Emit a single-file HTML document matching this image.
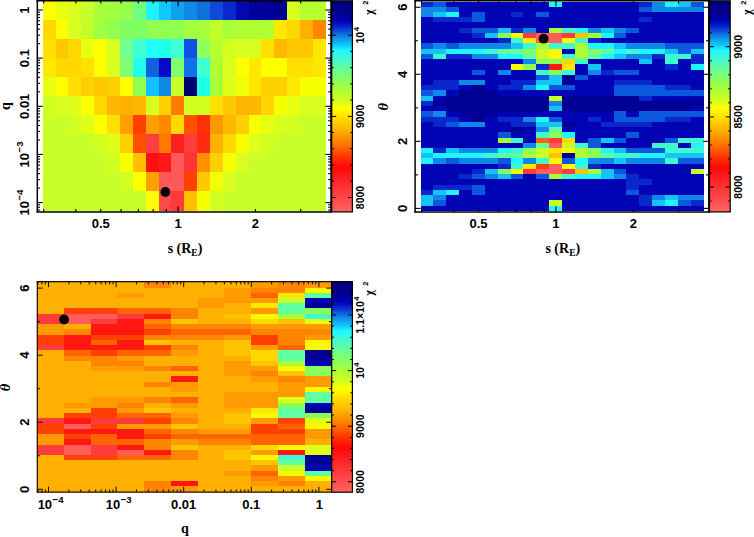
<!DOCTYPE html>
<html><head><meta charset="utf-8"><title>chi2 maps</title>
<style>html,body{margin:0;padding:0;background:#fff;}svg{display:block;}text{fill:#000;}</style></head>
<body>
<svg width="754" height="537" viewBox="0 0 754 537">
<defs><linearGradient id="cb" x1="0" y1="0" x2="0" y2="1"><stop offset="0.000" stop-color="#000080"/><stop offset="0.050" stop-color="#00008c"/><stop offset="0.095" stop-color="#0000b0"/><stop offset="0.125" stop-color="#0828d0"/><stop offset="0.165" stop-color="#1080e0"/><stop offset="0.205" stop-color="#10c0f8"/><stop offset="0.235" stop-color="#20f8ff"/><stop offset="0.290" stop-color="#50f8c0"/><stop offset="0.350" stop-color="#78ff78"/><stop offset="0.420" stop-color="#a8ff38"/><stop offset="0.470" stop-color="#d0ff20"/><stop offset="0.510" stop-color="#ffff00"/><stop offset="0.550" stop-color="#ffe000"/><stop offset="0.615" stop-color="#ffb000"/><stop offset="0.685" stop-color="#ff7000"/><stop offset="0.745" stop-color="#ff3000"/><stop offset="0.790" stop-color="#ff0808"/><stop offset="0.850" stop-color="#ff2424"/><stop offset="0.925" stop-color="#ff4444"/><stop offset="1.000" stop-color="#ff6464"/></linearGradient></defs>
<rect x="0" y="0" width="754" height="537" fill="#fff"/>
<g shape-rendering="crispEdges">
<rect x="42.70" y="1.00" width="13.17" height="19.34" fill="#ffff00"/>
<rect x="55.57" y="1.00" width="13.17" height="19.34" fill="#e8ff10"/>
<rect x="68.44" y="1.00" width="13.17" height="19.34" fill="#d8ff20"/>
<rect x="81.30" y="1.00" width="13.17" height="19.34" fill="#c8ff28"/>
<rect x="94.17" y="1.00" width="13.17" height="19.34" fill="#a8ff38"/>
<rect x="107.04" y="1.00" width="13.17" height="19.34" fill="#a0ff40"/>
<rect x="119.91" y="1.00" width="13.17" height="19.34" fill="#98ff48"/>
<rect x="132.78" y="1.00" width="13.17" height="19.34" fill="#70ff80"/>
<rect x="145.65" y="1.00" width="13.17" height="19.34" fill="#20f0ff"/>
<rect x="158.51" y="1.00" width="13.17" height="19.34" fill="#10c8ff"/>
<rect x="171.38" y="1.00" width="13.17" height="19.34" fill="#10a0f0"/>
<rect x="184.25" y="1.00" width="13.17" height="19.34" fill="#1088e8"/>
<rect x="197.12" y="1.00" width="13.17" height="19.34" fill="#1070e0"/>
<rect x="209.99" y="1.00" width="13.17" height="19.34" fill="#1048d8"/>
<rect x="222.85" y="1.00" width="13.17" height="19.34" fill="#0828d0"/>
<rect x="235.72" y="1.00" width="13.17" height="19.34" fill="#0408b0"/>
<rect x="248.59" y="1.00" width="13.17" height="19.34" fill="#0000a0"/>
<rect x="261.46" y="1.00" width="13.17" height="19.34" fill="#000098"/>
<rect x="274.33" y="1.00" width="13.17" height="19.34" fill="#000090"/>
<rect x="287.20" y="1.00" width="13.17" height="19.34" fill="#d8ff20"/>
<rect x="300.06" y="1.00" width="26.04" height="19.34" fill="#b8ff30"/>
<rect x="42.70" y="20.04" width="13.17" height="19.34" fill="#ffd800"/>
<rect x="55.57" y="20.04" width="13.17" height="19.34" fill="#ffff00"/>
<rect x="68.44" y="20.04" width="13.17" height="19.34" fill="#d8ff20"/>
<rect x="81.30" y="20.04" width="13.17" height="19.34" fill="#c0ff28"/>
<rect x="94.17" y="20.04" width="13.17" height="19.34" fill="#a0ff40"/>
<rect x="107.04" y="20.04" width="13.17" height="19.34" fill="#90ff50"/>
<rect x="119.91" y="20.04" width="26.04" height="19.34" fill="#80ff60"/>
<rect x="145.65" y="20.04" width="38.90" height="19.34" fill="#90ff50"/>
<rect x="184.25" y="20.04" width="13.17" height="19.34" fill="#a0ff40"/>
<rect x="197.12" y="20.04" width="13.17" height="19.34" fill="#a8ff38"/>
<rect x="209.99" y="20.04" width="13.17" height="19.34" fill="#c0ff28"/>
<rect x="222.85" y="20.04" width="13.17" height="19.34" fill="#a8ff38"/>
<rect x="235.72" y="20.04" width="38.90" height="19.34" fill="#b0ff30"/>
<rect x="274.33" y="20.04" width="13.17" height="19.34" fill="#ffe800"/>
<rect x="287.20" y="20.04" width="13.17" height="19.34" fill="#ffd800"/>
<rect x="300.06" y="20.04" width="13.17" height="19.34" fill="#ffb000"/>
<rect x="312.93" y="20.04" width="13.17" height="19.34" fill="#ff8800"/>
<rect x="42.70" y="39.07" width="13.17" height="19.34" fill="#ffe000"/>
<rect x="55.57" y="39.07" width="13.17" height="19.34" fill="#ffc800"/>
<rect x="68.44" y="39.07" width="13.17" height="19.34" fill="#ffd800"/>
<rect x="81.30" y="39.07" width="13.17" height="19.34" fill="#e8ff10"/>
<rect x="94.17" y="39.07" width="13.17" height="19.34" fill="#ffff00"/>
<rect x="107.04" y="39.07" width="13.17" height="19.34" fill="#d8ff20"/>
<rect x="119.91" y="39.07" width="13.17" height="19.34" fill="#70ff90"/>
<rect x="132.78" y="39.07" width="13.17" height="19.34" fill="#40ffd0"/>
<rect x="145.65" y="39.07" width="13.17" height="19.34" fill="#20ffff"/>
<rect x="158.51" y="39.07" width="13.17" height="19.34" fill="#20ffe8"/>
<rect x="171.38" y="39.07" width="13.17" height="19.34" fill="#40ffd0"/>
<rect x="184.25" y="39.07" width="13.17" height="19.34" fill="#1050e0"/>
<rect x="197.12" y="39.07" width="13.17" height="19.34" fill="#90ff60"/>
<rect x="209.99" y="39.07" width="13.17" height="19.34" fill="#b8ff30"/>
<rect x="222.85" y="39.07" width="13.17" height="19.34" fill="#d0ff20"/>
<rect x="235.72" y="39.07" width="26.04" height="19.34" fill="#d8ff20"/>
<rect x="261.46" y="39.07" width="13.17" height="19.34" fill="#ffe000"/>
<rect x="274.33" y="39.07" width="13.17" height="19.34" fill="#ffb800"/>
<rect x="287.20" y="39.07" width="26.04" height="19.34" fill="#ffc800"/>
<rect x="312.93" y="39.07" width="13.17" height="19.34" fill="#ffe800"/>
<rect x="42.70" y="58.11" width="13.17" height="19.34" fill="#ffe800"/>
<rect x="55.57" y="58.11" width="26.04" height="19.34" fill="#ffd800"/>
<rect x="81.30" y="58.11" width="13.17" height="19.34" fill="#ffe000"/>
<rect x="94.17" y="58.11" width="13.17" height="19.34" fill="#ffff00"/>
<rect x="107.04" y="58.11" width="13.17" height="19.34" fill="#d8ff20"/>
<rect x="119.91" y="58.11" width="13.17" height="19.34" fill="#80ff70"/>
<rect x="132.78" y="58.11" width="13.17" height="19.34" fill="#20ffe8"/>
<rect x="145.65" y="58.11" width="13.17" height="19.34" fill="#1060e0"/>
<rect x="158.51" y="58.11" width="13.17" height="19.34" fill="#0808c8"/>
<rect x="171.38" y="58.11" width="13.17" height="19.34" fill="#80ff70"/>
<rect x="184.25" y="58.11" width="13.17" height="19.34" fill="#1070e8"/>
<rect x="197.12" y="58.11" width="13.17" height="19.34" fill="#40ffd0"/>
<rect x="209.99" y="58.11" width="13.17" height="19.34" fill="#b0ff30"/>
<rect x="222.85" y="58.11" width="13.17" height="19.34" fill="#d8ff20"/>
<rect x="235.72" y="58.11" width="13.17" height="19.34" fill="#ffff00"/>
<rect x="248.59" y="58.11" width="13.17" height="19.34" fill="#ffe800"/>
<rect x="261.46" y="58.11" width="26.04" height="19.34" fill="#ffff00"/>
<rect x="287.20" y="58.11" width="26.04" height="19.34" fill="#ffe000"/>
<rect x="312.93" y="58.11" width="13.17" height="19.34" fill="#ffe800"/>
<rect x="42.70" y="77.15" width="13.17" height="19.34" fill="#e8ff10"/>
<rect x="55.57" y="77.15" width="13.17" height="19.34" fill="#ffff00"/>
<rect x="68.44" y="77.15" width="13.17" height="19.34" fill="#ffe000"/>
<rect x="81.30" y="77.15" width="13.17" height="19.34" fill="#ffd000"/>
<rect x="94.17" y="77.15" width="13.17" height="19.34" fill="#ffc800"/>
<rect x="107.04" y="77.15" width="13.17" height="19.34" fill="#ffd000"/>
<rect x="119.91" y="77.15" width="13.17" height="19.34" fill="#ffff00"/>
<rect x="132.78" y="77.15" width="13.17" height="19.34" fill="#90ff50"/>
<rect x="145.65" y="77.15" width="13.17" height="19.34" fill="#10c0ff"/>
<rect x="158.51" y="77.15" width="13.17" height="19.34" fill="#1088e8"/>
<rect x="171.38" y="77.15" width="13.17" height="19.34" fill="#c8ff28"/>
<rect x="184.25" y="77.15" width="13.17" height="19.34" fill="#000070"/>
<rect x="197.12" y="77.15" width="13.17" height="19.34" fill="#20ffe8"/>
<rect x="209.99" y="77.15" width="13.17" height="19.34" fill="#a8ff38"/>
<rect x="222.85" y="77.15" width="13.17" height="19.34" fill="#e0ff18"/>
<rect x="235.72" y="77.15" width="13.17" height="19.34" fill="#f0ff08"/>
<rect x="248.59" y="77.15" width="13.17" height="19.34" fill="#ffe800"/>
<rect x="261.46" y="77.15" width="26.04" height="19.34" fill="#ffd000"/>
<rect x="287.20" y="77.15" width="13.17" height="19.34" fill="#ffe800"/>
<rect x="300.06" y="77.15" width="26.04" height="19.34" fill="#f8ff00"/>
<rect x="42.70" y="96.18" width="13.17" height="19.34" fill="#d0ff20"/>
<rect x="55.57" y="96.18" width="13.17" height="19.34" fill="#d8ff20"/>
<rect x="68.44" y="96.18" width="13.17" height="19.34" fill="#e0ff18"/>
<rect x="81.30" y="96.18" width="13.17" height="19.34" fill="#ffff00"/>
<rect x="94.17" y="96.18" width="13.17" height="19.34" fill="#ffd800"/>
<rect x="107.04" y="96.18" width="13.17" height="19.34" fill="#ffb800"/>
<rect x="119.91" y="96.18" width="13.17" height="19.34" fill="#ffb000"/>
<rect x="132.78" y="96.18" width="13.17" height="19.34" fill="#ffb800"/>
<rect x="145.65" y="96.18" width="13.17" height="19.34" fill="#d8ff20"/>
<rect x="158.51" y="96.18" width="13.17" height="19.34" fill="#ffd000"/>
<rect x="171.38" y="96.18" width="13.17" height="19.34" fill="#ff7c00"/>
<rect x="184.25" y="96.18" width="26.04" height="19.34" fill="#d0ff20"/>
<rect x="209.99" y="96.18" width="13.17" height="19.34" fill="#ffe000"/>
<rect x="222.85" y="96.18" width="13.17" height="19.34" fill="#ffc800"/>
<rect x="235.72" y="96.18" width="13.17" height="19.34" fill="#ffb400"/>
<rect x="248.59" y="96.18" width="13.17" height="19.34" fill="#ffb800"/>
<rect x="261.46" y="96.18" width="13.17" height="19.34" fill="#ffd400"/>
<rect x="274.33" y="96.18" width="13.17" height="19.34" fill="#f8ff00"/>
<rect x="287.20" y="96.18" width="13.17" height="19.34" fill="#e8ff10"/>
<rect x="300.06" y="96.18" width="13.17" height="19.34" fill="#d8ff20"/>
<rect x="312.93" y="96.18" width="13.17" height="19.34" fill="#d8ff1c"/>
<rect x="42.70" y="115.22" width="26.04" height="19.34" fill="#c8ff28"/>
<rect x="68.44" y="115.22" width="13.17" height="19.34" fill="#d0ff20"/>
<rect x="81.30" y="115.22" width="13.17" height="19.34" fill="#e0ff18"/>
<rect x="94.17" y="115.22" width="13.17" height="19.34" fill="#ffff00"/>
<rect x="107.04" y="115.22" width="13.17" height="19.34" fill="#ffe000"/>
<rect x="119.91" y="115.22" width="13.17" height="19.34" fill="#ffa000"/>
<rect x="132.78" y="115.22" width="13.17" height="19.34" fill="#ff4000"/>
<rect x="145.65" y="115.22" width="13.17" height="19.34" fill="#ffa000"/>
<rect x="158.51" y="115.22" width="13.17" height="19.34" fill="#ff8800"/>
<rect x="171.38" y="115.22" width="13.17" height="19.34" fill="#ffd800"/>
<rect x="184.25" y="115.22" width="13.17" height="19.34" fill="#ff5000"/>
<rect x="197.12" y="115.22" width="13.17" height="19.34" fill="#ff3008"/>
<rect x="209.99" y="115.22" width="13.17" height="19.34" fill="#ff9800"/>
<rect x="222.85" y="115.22" width="13.17" height="19.34" fill="#ffb800"/>
<rect x="235.72" y="115.22" width="13.17" height="19.34" fill="#ffd000"/>
<rect x="248.59" y="115.22" width="13.17" height="19.34" fill="#f8ff00"/>
<rect x="261.46" y="115.22" width="13.17" height="19.34" fill="#e8ff10"/>
<rect x="274.33" y="115.22" width="13.17" height="19.34" fill="#d8ff20"/>
<rect x="287.20" y="115.22" width="13.17" height="19.34" fill="#d0ff20"/>
<rect x="300.06" y="115.22" width="26.04" height="19.34" fill="#c8ff28"/>
<rect x="42.70" y="134.25" width="51.77" height="19.34" fill="#c8ff28"/>
<rect x="94.17" y="134.25" width="13.17" height="19.34" fill="#d0ff20"/>
<rect x="107.04" y="134.25" width="13.17" height="19.34" fill="#e0ff18"/>
<rect x="119.91" y="134.25" width="13.17" height="19.34" fill="#ffd000"/>
<rect x="132.78" y="134.25" width="13.17" height="19.34" fill="#ff5000"/>
<rect x="145.65" y="134.25" width="13.17" height="19.34" fill="#ff4040"/>
<rect x="158.51" y="134.25" width="13.17" height="19.34" fill="#ff7800"/>
<rect x="171.38" y="134.25" width="13.17" height="19.34" fill="#ff2020"/>
<rect x="184.25" y="134.25" width="13.17" height="19.34" fill="#ff3c3c"/>
<rect x="197.12" y="134.25" width="13.17" height="19.34" fill="#ff2810"/>
<rect x="209.99" y="134.25" width="13.17" height="19.34" fill="#ffb000"/>
<rect x="222.85" y="134.25" width="13.17" height="19.34" fill="#ffd800"/>
<rect x="235.72" y="134.25" width="13.17" height="19.34" fill="#f8ff00"/>
<rect x="248.59" y="134.25" width="13.17" height="19.34" fill="#e0ff18"/>
<rect x="261.46" y="134.25" width="13.17" height="19.34" fill="#d0ff20"/>
<rect x="274.33" y="134.25" width="51.77" height="19.34" fill="#c8ff28"/>
<rect x="42.70" y="153.29" width="64.64" height="19.34" fill="#c8ff28"/>
<rect x="107.04" y="153.29" width="13.17" height="19.34" fill="#d0ff20"/>
<rect x="119.91" y="153.29" width="13.17" height="19.34" fill="#f8ff00"/>
<rect x="132.78" y="153.29" width="13.17" height="19.34" fill="#ffc000"/>
<rect x="145.65" y="153.29" width="13.17" height="19.34" fill="#ff1010"/>
<rect x="158.51" y="153.29" width="13.17" height="19.34" fill="#ff1818"/>
<rect x="171.38" y="153.29" width="13.17" height="19.34" fill="#ff5858"/>
<rect x="184.25" y="153.29" width="13.17" height="19.34" fill="#ff3434"/>
<rect x="197.12" y="153.29" width="13.17" height="19.34" fill="#ff9000"/>
<rect x="209.99" y="153.29" width="13.17" height="19.34" fill="#ffd000"/>
<rect x="222.85" y="153.29" width="13.17" height="19.34" fill="#f8ff00"/>
<rect x="235.72" y="153.29" width="13.17" height="19.34" fill="#d8ff20"/>
<rect x="248.59" y="153.29" width="77.51" height="19.34" fill="#c8ff28"/>
<rect x="42.70" y="172.33" width="77.51" height="19.34" fill="#c8ff28"/>
<rect x="119.91" y="172.33" width="13.17" height="19.34" fill="#d0ff20"/>
<rect x="132.78" y="172.33" width="13.17" height="19.34" fill="#ffff00"/>
<rect x="145.65" y="172.33" width="13.17" height="19.34" fill="#ffa000"/>
<rect x="158.51" y="172.33" width="26.04" height="19.34" fill="#ff5858"/>
<rect x="184.25" y="172.33" width="13.17" height="19.34" fill="#ff4000"/>
<rect x="197.12" y="172.33" width="13.17" height="19.34" fill="#ffc800"/>
<rect x="209.99" y="172.33" width="13.17" height="19.34" fill="#f0ff08"/>
<rect x="222.85" y="172.33" width="13.17" height="19.34" fill="#d8ff20"/>
<rect x="235.72" y="172.33" width="90.38" height="19.34" fill="#c8ff28"/>
<rect x="42.70" y="191.36" width="103.25" height="19.34" fill="#c8ff28"/>
<rect x="145.65" y="191.36" width="13.17" height="19.34" fill="#ffff00"/>
<rect x="158.51" y="191.36" width="13.17" height="19.34" fill="#ff4848"/>
<rect x="171.38" y="191.36" width="13.17" height="19.34" fill="#ff3838"/>
<rect x="184.25" y="191.36" width="13.17" height="19.34" fill="#ffc000"/>
<rect x="197.12" y="191.36" width="13.17" height="19.34" fill="#f8ff00"/>
<rect x="209.99" y="191.36" width="13.17" height="19.34" fill="#d0ff20"/>
<rect x="222.85" y="191.36" width="103.25" height="19.34" fill="#c8ff28"/>
<rect x="420.50" y="1.50" width="13.17" height="5.53" fill="#0828cc"/>
<rect x="433.37" y="1.50" width="13.17" height="5.53" fill="#0c58dc"/>
<rect x="446.24" y="1.50" width="103.25" height="5.53" fill="#0004b4"/>
<rect x="549.18" y="1.50" width="13.17" height="5.53" fill="#20f4fc"/>
<rect x="562.05" y="1.50" width="77.51" height="5.53" fill="#0004b4"/>
<rect x="639.26" y="1.50" width="13.17" height="5.53" fill="#0828cc"/>
<rect x="652.13" y="1.50" width="13.17" height="5.53" fill="#1088e8"/>
<rect x="665.00" y="1.50" width="13.17" height="5.53" fill="#20f4fc"/>
<rect x="677.86" y="1.50" width="13.17" height="5.53" fill="#14c4f8"/>
<rect x="690.73" y="1.50" width="13.17" height="5.53" fill="#0c58dc"/>
<rect x="420.50" y="6.73" width="26.04" height="5.53" fill="#1088e8"/>
<rect x="446.24" y="6.73" width="13.17" height="5.53" fill="#0c58dc"/>
<rect x="459.10" y="6.73" width="180.45" height="5.53" fill="#0004b4"/>
<rect x="639.26" y="6.73" width="13.17" height="5.53" fill="#0c58dc"/>
<rect x="652.13" y="6.73" width="51.77" height="5.53" fill="#1088e8"/>
<rect x="420.50" y="11.96" width="13.17" height="5.53" fill="#1088e8"/>
<rect x="433.37" y="11.96" width="13.17" height="5.53" fill="#14c4f8"/>
<rect x="446.24" y="11.96" width="13.17" height="5.53" fill="#20f4fc"/>
<rect x="459.10" y="11.96" width="13.17" height="5.53" fill="#0004b4"/>
<rect x="471.97" y="11.96" width="13.17" height="5.53" fill="#0c58dc"/>
<rect x="484.84" y="11.96" width="26.04" height="5.53" fill="#0004b4"/>
<rect x="510.58" y="11.96" width="13.17" height="5.53" fill="#0828cc"/>
<rect x="523.45" y="11.96" width="13.17" height="5.53" fill="#0004b4"/>
<rect x="536.31" y="11.96" width="13.17" height="5.53" fill="#0c58dc"/>
<rect x="549.18" y="11.96" width="154.72" height="5.53" fill="#0004b4"/>
<rect x="420.50" y="17.20" width="13.17" height="5.53" fill="#0004b4"/>
<rect x="433.37" y="17.20" width="38.90" height="5.53" fill="#0828cc"/>
<rect x="471.97" y="17.20" width="13.17" height="5.53" fill="#0c58dc"/>
<rect x="484.84" y="17.20" width="154.72" height="5.53" fill="#0004b4"/>
<rect x="639.26" y="17.20" width="13.17" height="5.53" fill="#0828cc"/>
<rect x="652.13" y="17.20" width="51.77" height="5.53" fill="#0004b4"/>
<rect x="420.50" y="22.43" width="283.40" height="5.53" fill="#0004b4"/>
<rect x="420.50" y="27.66" width="38.90" height="5.53" fill="#0004b4"/>
<rect x="459.10" y="27.66" width="13.17" height="5.53" fill="#0828cc"/>
<rect x="471.97" y="27.66" width="26.04" height="5.53" fill="#0c58dc"/>
<rect x="497.71" y="27.66" width="13.17" height="5.53" fill="#14c4f8"/>
<rect x="510.58" y="27.66" width="13.17" height="5.53" fill="#0828cc"/>
<rect x="523.45" y="27.66" width="13.17" height="5.53" fill="#1088e8"/>
<rect x="536.31" y="27.66" width="13.17" height="5.53" fill="#0004b4"/>
<rect x="549.18" y="27.66" width="13.17" height="5.53" fill="#a8ff38"/>
<rect x="562.05" y="27.66" width="13.17" height="5.53" fill="#40f8d0"/>
<rect x="574.92" y="27.66" width="13.17" height="5.53" fill="#20f4fc"/>
<rect x="587.79" y="27.66" width="13.17" height="5.53" fill="#1088e8"/>
<rect x="600.65" y="27.66" width="13.17" height="5.53" fill="#14c4f8"/>
<rect x="613.52" y="27.66" width="13.17" height="5.53" fill="#1088e8"/>
<rect x="626.39" y="27.66" width="13.17" height="5.53" fill="#0c58dc"/>
<rect x="639.26" y="27.66" width="64.64" height="5.53" fill="#0004b4"/>
<rect x="420.50" y="32.89" width="51.77" height="5.53" fill="#0004b4"/>
<rect x="471.97" y="32.89" width="13.17" height="5.53" fill="#0828cc"/>
<rect x="484.84" y="32.89" width="13.17" height="5.53" fill="#14c4f8"/>
<rect x="497.71" y="32.89" width="13.17" height="5.53" fill="#88ff58"/>
<rect x="510.58" y="32.89" width="13.17" height="5.53" fill="#fcf800"/>
<rect x="523.45" y="32.89" width="13.17" height="5.53" fill="#ff3c3c"/>
<rect x="536.31" y="32.89" width="26.04" height="5.53" fill="#ff5c5c"/>
<rect x="562.05" y="32.89" width="13.17" height="5.53" fill="#ff3c3c"/>
<rect x="574.92" y="32.89" width="13.17" height="5.53" fill="#ffc000"/>
<rect x="587.79" y="32.89" width="13.17" height="5.53" fill="#a8ff38"/>
<rect x="600.65" y="32.89" width="13.17" height="5.53" fill="#20f4fc"/>
<rect x="613.52" y="32.89" width="13.17" height="5.53" fill="#0c58dc"/>
<rect x="626.39" y="32.89" width="77.51" height="5.53" fill="#0004b4"/>
<rect x="420.50" y="38.13" width="77.51" height="5.53" fill="#0004b4"/>
<rect x="497.71" y="38.13" width="13.17" height="5.53" fill="#0828cc"/>
<rect x="510.58" y="38.13" width="13.17" height="5.53" fill="#40f8d0"/>
<rect x="523.45" y="38.13" width="13.17" height="5.53" fill="#ffe800"/>
<rect x="536.31" y="38.13" width="26.04" height="5.53" fill="#ff5c5c"/>
<rect x="562.05" y="38.13" width="13.17" height="5.53" fill="#fcf800"/>
<rect x="574.92" y="38.13" width="13.17" height="5.53" fill="#40f8d0"/>
<rect x="587.79" y="38.13" width="13.17" height="5.53" fill="#0828cc"/>
<rect x="600.65" y="38.13" width="103.25" height="5.53" fill="#0004b4"/>
<rect x="420.50" y="43.36" width="13.17" height="5.53" fill="#0c58dc"/>
<rect x="433.37" y="43.36" width="13.17" height="5.53" fill="#1088e8"/>
<rect x="446.24" y="43.36" width="13.17" height="5.53" fill="#0c58dc"/>
<rect x="459.10" y="43.36" width="51.77" height="5.53" fill="#1088e8"/>
<rect x="510.58" y="43.36" width="13.17" height="5.53" fill="#14c4f8"/>
<rect x="523.45" y="43.36" width="13.17" height="5.53" fill="#40f8d0"/>
<rect x="536.31" y="43.36" width="13.17" height="5.53" fill="#a8ff38"/>
<rect x="549.18" y="43.36" width="26.04" height="5.53" fill="#40f8d0"/>
<rect x="574.92" y="43.36" width="13.17" height="5.53" fill="#a8ff38"/>
<rect x="587.79" y="43.36" width="26.04" height="5.53" fill="#20f4fc"/>
<rect x="613.52" y="43.36" width="13.17" height="5.53" fill="#14c4f8"/>
<rect x="626.39" y="43.36" width="38.90" height="5.53" fill="#1088e8"/>
<rect x="665.00" y="43.36" width="38.90" height="5.53" fill="#0c58dc"/>
<rect x="420.50" y="48.59" width="26.04" height="5.53" fill="#14c4f8"/>
<rect x="446.24" y="48.59" width="38.90" height="5.53" fill="#20f4fc"/>
<rect x="484.84" y="48.59" width="13.17" height="5.53" fill="#40f8d0"/>
<rect x="497.71" y="48.59" width="26.04" height="5.53" fill="#60ffa0"/>
<rect x="523.45" y="48.59" width="13.17" height="5.53" fill="#88ff58"/>
<rect x="536.31" y="48.59" width="13.17" height="5.53" fill="#c8ff28"/>
<rect x="549.18" y="48.59" width="13.17" height="5.53" fill="#fcf800"/>
<rect x="562.05" y="48.59" width="13.17" height="5.53" fill="#0004b4"/>
<rect x="574.92" y="48.59" width="13.17" height="5.53" fill="#a8ff38"/>
<rect x="587.79" y="48.59" width="13.17" height="5.53" fill="#88ff58"/>
<rect x="600.65" y="48.59" width="13.17" height="5.53" fill="#60ffa0"/>
<rect x="613.52" y="48.59" width="13.17" height="5.53" fill="#20f4fc"/>
<rect x="626.39" y="48.59" width="13.17" height="5.53" fill="#40f8d0"/>
<rect x="639.26" y="48.59" width="26.04" height="5.53" fill="#20f4fc"/>
<rect x="665.00" y="48.59" width="13.17" height="5.53" fill="#14c4f8"/>
<rect x="677.86" y="48.59" width="13.17" height="5.53" fill="#0c58dc"/>
<rect x="690.73" y="48.59" width="13.17" height="5.53" fill="#14c4f8"/>
<rect x="420.50" y="53.83" width="13.17" height="5.53" fill="#0c58dc"/>
<rect x="433.37" y="53.83" width="13.17" height="5.53" fill="#40f8d0"/>
<rect x="446.24" y="53.83" width="26.04" height="5.53" fill="#0828cc"/>
<rect x="471.97" y="53.83" width="26.04" height="5.53" fill="#1088e8"/>
<rect x="497.71" y="53.83" width="26.04" height="5.53" fill="#20f4fc"/>
<rect x="523.45" y="53.83" width="13.17" height="5.53" fill="#60ffa0"/>
<rect x="536.31" y="53.83" width="13.17" height="5.53" fill="#c8ff28"/>
<rect x="549.18" y="53.83" width="13.17" height="5.53" fill="#fcf800"/>
<rect x="562.05" y="53.83" width="13.17" height="5.53" fill="#40f8d0"/>
<rect x="574.92" y="53.83" width="13.17" height="5.53" fill="#a8ff38"/>
<rect x="587.79" y="53.83" width="13.17" height="5.53" fill="#60ffa0"/>
<rect x="600.65" y="53.83" width="13.17" height="5.53" fill="#20f4fc"/>
<rect x="613.52" y="53.83" width="13.17" height="5.53" fill="#14c4f8"/>
<rect x="626.39" y="53.83" width="26.04" height="5.53" fill="#1088e8"/>
<rect x="652.13" y="53.83" width="13.17" height="5.53" fill="#0828cc"/>
<rect x="665.00" y="53.83" width="26.04" height="5.53" fill="#40f8d0"/>
<rect x="690.73" y="53.83" width="13.17" height="5.53" fill="#0828cc"/>
<rect x="420.50" y="59.06" width="103.25" height="5.53" fill="#0004b4"/>
<rect x="523.45" y="59.06" width="13.17" height="5.53" fill="#1088e8"/>
<rect x="536.31" y="59.06" width="26.04" height="5.53" fill="#88ff58"/>
<rect x="562.05" y="59.06" width="13.17" height="5.53" fill="#ffd800"/>
<rect x="574.92" y="59.06" width="13.17" height="5.53" fill="#40f8d0"/>
<rect x="587.79" y="59.06" width="51.77" height="5.53" fill="#0004b4"/>
<rect x="639.26" y="59.06" width="13.17" height="5.53" fill="#14c4f8"/>
<rect x="652.13" y="59.06" width="13.17" height="5.53" fill="#0004b4"/>
<rect x="665.00" y="59.06" width="13.17" height="5.53" fill="#40f8d0"/>
<rect x="677.86" y="59.06" width="13.17" height="5.53" fill="#0004b4"/>
<rect x="690.73" y="59.06" width="13.17" height="5.53" fill="#0828cc"/>
<rect x="420.50" y="64.29" width="90.38" height="5.53" fill="#0004b4"/>
<rect x="510.58" y="64.29" width="13.17" height="5.53" fill="#fcf800"/>
<rect x="523.45" y="64.29" width="13.17" height="5.53" fill="#88ff58"/>
<rect x="536.31" y="64.29" width="13.17" height="5.53" fill="#0828cc"/>
<rect x="549.18" y="64.29" width="13.17" height="5.53" fill="#ff1810"/>
<rect x="562.05" y="64.29" width="13.17" height="5.53" fill="#ffe800"/>
<rect x="574.92" y="64.29" width="13.17" height="5.53" fill="#0004b4"/>
<rect x="587.79" y="64.29" width="13.17" height="5.53" fill="#14c4f8"/>
<rect x="600.65" y="64.29" width="64.64" height="5.53" fill="#0004b4"/>
<rect x="665.00" y="64.29" width="13.17" height="5.53" fill="#0828cc"/>
<rect x="677.86" y="64.29" width="13.17" height="5.53" fill="#0004b4"/>
<rect x="690.73" y="64.29" width="13.17" height="5.53" fill="#20f4fc"/>
<rect x="420.50" y="69.52" width="51.77" height="5.53" fill="#0004b4"/>
<rect x="471.97" y="69.52" width="13.17" height="5.53" fill="#0c58dc"/>
<rect x="484.84" y="69.52" width="13.17" height="5.53" fill="#0004b4"/>
<rect x="497.71" y="69.52" width="13.17" height="5.53" fill="#1088e8"/>
<rect x="510.58" y="69.52" width="26.04" height="5.53" fill="#0004b4"/>
<rect x="536.31" y="69.52" width="13.17" height="5.53" fill="#40f8d0"/>
<rect x="549.18" y="69.52" width="13.17" height="5.53" fill="#88ff58"/>
<rect x="562.05" y="69.52" width="13.17" height="5.53" fill="#40f8d0"/>
<rect x="574.92" y="69.52" width="13.17" height="5.53" fill="#0004b4"/>
<rect x="587.79" y="69.52" width="13.17" height="5.53" fill="#1088e8"/>
<rect x="600.65" y="69.52" width="13.17" height="5.53" fill="#0828cc"/>
<rect x="613.52" y="69.52" width="26.04" height="5.53" fill="#0c58dc"/>
<rect x="639.26" y="69.52" width="64.64" height="5.53" fill="#0004b4"/>
<rect x="420.50" y="74.75" width="116.11" height="5.53" fill="#0004b4"/>
<rect x="536.31" y="74.75" width="13.17" height="5.53" fill="#0c58dc"/>
<rect x="549.18" y="74.75" width="13.17" height="5.53" fill="#14c4f8"/>
<rect x="562.05" y="74.75" width="13.17" height="5.53" fill="#000094"/>
<rect x="574.92" y="74.75" width="13.17" height="5.53" fill="#0c58dc"/>
<rect x="587.79" y="74.75" width="116.11" height="5.53" fill="#0004b4"/>
<rect x="420.50" y="79.99" width="13.17" height="5.53" fill="#0004b4"/>
<rect x="433.37" y="79.99" width="26.04" height="5.53" fill="#0828cc"/>
<rect x="459.10" y="79.99" width="26.04" height="5.53" fill="#1088e8"/>
<rect x="484.84" y="79.99" width="26.04" height="5.53" fill="#0004b4"/>
<rect x="510.58" y="79.99" width="26.04" height="5.53" fill="#0828cc"/>
<rect x="536.31" y="79.99" width="26.04" height="5.53" fill="#14c4f8"/>
<rect x="562.05" y="79.99" width="13.17" height="5.53" fill="#000094"/>
<rect x="574.92" y="79.99" width="38.90" height="5.53" fill="#0004b4"/>
<rect x="613.52" y="79.99" width="38.90" height="5.53" fill="#0828cc"/>
<rect x="652.13" y="79.99" width="51.77" height="5.53" fill="#0004b4"/>
<rect x="420.50" y="85.22" width="38.90" height="5.53" fill="#0828cc"/>
<rect x="459.10" y="85.22" width="13.17" height="5.53" fill="#0004b4"/>
<rect x="471.97" y="85.22" width="13.17" height="5.53" fill="#000094"/>
<rect x="484.84" y="85.22" width="13.17" height="5.53" fill="#0004b4"/>
<rect x="497.71" y="85.22" width="26.04" height="5.53" fill="#0828cc"/>
<rect x="523.45" y="85.22" width="13.17" height="5.53" fill="#1088e8"/>
<rect x="536.31" y="85.22" width="13.17" height="5.53" fill="#20f4fc"/>
<rect x="549.18" y="85.22" width="26.04" height="5.53" fill="#0c58dc"/>
<rect x="574.92" y="85.22" width="38.90" height="5.53" fill="#0004b4"/>
<rect x="613.52" y="85.22" width="51.77" height="5.53" fill="#0c58dc"/>
<rect x="665.00" y="85.22" width="26.04" height="5.53" fill="#0828cc"/>
<rect x="690.73" y="85.22" width="13.17" height="5.53" fill="#0004b4"/>
<rect x="420.50" y="90.45" width="13.17" height="5.53" fill="#0c58dc"/>
<rect x="433.37" y="90.45" width="13.17" height="5.53" fill="#1088e8"/>
<rect x="446.24" y="90.45" width="13.17" height="5.53" fill="#0004b4"/>
<rect x="459.10" y="90.45" width="38.90" height="5.53" fill="#000094"/>
<rect x="497.71" y="90.45" width="116.11" height="5.53" fill="#0004b4"/>
<rect x="613.52" y="90.45" width="90.38" height="5.53" fill="#0c58dc"/>
<rect x="420.50" y="95.69" width="13.17" height="5.53" fill="#14c4f8"/>
<rect x="433.37" y="95.69" width="13.17" height="5.53" fill="#0004b4"/>
<rect x="446.24" y="95.69" width="103.25" height="5.53" fill="#000094"/>
<rect x="549.18" y="95.69" width="13.17" height="5.53" fill="#c8ff28"/>
<rect x="562.05" y="95.69" width="77.51" height="5.53" fill="#000094"/>
<rect x="639.26" y="95.69" width="13.17" height="5.53" fill="#0828cc"/>
<rect x="652.13" y="95.69" width="51.77" height="5.53" fill="#0004b4"/>
<rect x="420.50" y="100.92" width="13.17" height="5.53" fill="#0828cc"/>
<rect x="433.37" y="100.92" width="116.11" height="5.53" fill="#000094"/>
<rect x="549.18" y="100.92" width="13.17" height="5.53" fill="#1088e8"/>
<rect x="562.05" y="100.92" width="141.85" height="5.53" fill="#000094"/>
<rect x="420.50" y="106.15" width="26.04" height="5.53" fill="#0004b4"/>
<rect x="446.24" y="106.15" width="103.25" height="5.53" fill="#000094"/>
<rect x="549.18" y="106.15" width="13.17" height="5.53" fill="#14c4f8"/>
<rect x="562.05" y="106.15" width="128.98" height="5.53" fill="#000094"/>
<rect x="690.73" y="106.15" width="13.17" height="5.53" fill="#0004b4"/>
<rect x="420.50" y="111.38" width="13.17" height="5.53" fill="#0c58dc"/>
<rect x="433.37" y="111.38" width="13.17" height="5.53" fill="#1088e8"/>
<rect x="446.24" y="111.38" width="13.17" height="5.53" fill="#0004b4"/>
<rect x="459.10" y="111.38" width="38.90" height="5.53" fill="#000094"/>
<rect x="497.71" y="111.38" width="116.11" height="5.53" fill="#0004b4"/>
<rect x="613.52" y="111.38" width="13.17" height="5.53" fill="#0c58dc"/>
<rect x="626.39" y="111.38" width="13.17" height="5.53" fill="#0004b4"/>
<rect x="639.26" y="111.38" width="64.64" height="5.53" fill="#0c58dc"/>
<rect x="420.50" y="116.61" width="38.90" height="5.53" fill="#0828cc"/>
<rect x="459.10" y="116.61" width="13.17" height="5.53" fill="#0004b4"/>
<rect x="471.97" y="116.61" width="13.17" height="5.53" fill="#000094"/>
<rect x="484.84" y="116.61" width="13.17" height="5.53" fill="#0004b4"/>
<rect x="497.71" y="116.61" width="26.04" height="5.53" fill="#0828cc"/>
<rect x="523.45" y="116.61" width="13.17" height="5.53" fill="#1088e8"/>
<rect x="536.31" y="116.61" width="13.17" height="5.53" fill="#20f4fc"/>
<rect x="549.18" y="116.61" width="13.17" height="5.53" fill="#0c58dc"/>
<rect x="562.05" y="116.61" width="26.04" height="5.53" fill="#0004b4"/>
<rect x="587.79" y="116.61" width="13.17" height="5.53" fill="#0828cc"/>
<rect x="600.65" y="116.61" width="13.17" height="5.53" fill="#0004b4"/>
<rect x="613.52" y="116.61" width="51.77" height="5.53" fill="#0c58dc"/>
<rect x="665.00" y="116.61" width="26.04" height="5.53" fill="#0828cc"/>
<rect x="690.73" y="116.61" width="13.17" height="5.53" fill="#0004b4"/>
<rect x="420.50" y="121.85" width="13.17" height="5.53" fill="#0004b4"/>
<rect x="433.37" y="121.85" width="13.17" height="5.53" fill="#0828cc"/>
<rect x="446.24" y="121.85" width="13.17" height="5.53" fill="#0c58dc"/>
<rect x="459.10" y="121.85" width="26.04" height="5.53" fill="#1088e8"/>
<rect x="484.84" y="121.85" width="26.04" height="5.53" fill="#0004b4"/>
<rect x="510.58" y="121.85" width="26.04" height="5.53" fill="#0828cc"/>
<rect x="536.31" y="121.85" width="26.04" height="5.53" fill="#14c4f8"/>
<rect x="562.05" y="121.85" width="13.17" height="5.53" fill="#000094"/>
<rect x="574.92" y="121.85" width="26.04" height="5.53" fill="#0004b4"/>
<rect x="600.65" y="121.85" width="51.77" height="5.53" fill="#0828cc"/>
<rect x="652.13" y="121.85" width="51.77" height="5.53" fill="#0004b4"/>
<rect x="420.50" y="127.08" width="90.38" height="5.53" fill="#0004b4"/>
<rect x="510.58" y="127.08" width="13.17" height="5.53" fill="#000094"/>
<rect x="523.45" y="127.08" width="13.17" height="5.53" fill="#0004b4"/>
<rect x="536.31" y="127.08" width="13.17" height="5.53" fill="#1088e8"/>
<rect x="549.18" y="127.08" width="13.17" height="5.53" fill="#60ffa0"/>
<rect x="562.05" y="127.08" width="141.85" height="5.53" fill="#0004b4"/>
<rect x="420.50" y="132.31" width="77.51" height="5.53" fill="#0004b4"/>
<rect x="497.71" y="132.31" width="13.17" height="5.53" fill="#0c58dc"/>
<rect x="510.58" y="132.31" width="26.04" height="5.53" fill="#0004b4"/>
<rect x="536.31" y="132.31" width="13.17" height="5.53" fill="#40f8d0"/>
<rect x="549.18" y="132.31" width="13.17" height="5.53" fill="#88ff58"/>
<rect x="562.05" y="132.31" width="13.17" height="5.53" fill="#20f4fc"/>
<rect x="574.92" y="132.31" width="51.77" height="5.53" fill="#0004b4"/>
<rect x="626.39" y="132.31" width="13.17" height="5.53" fill="#0c58dc"/>
<rect x="639.26" y="132.31" width="64.64" height="5.53" fill="#0004b4"/>
<rect x="420.50" y="137.54" width="77.51" height="5.53" fill="#0004b4"/>
<rect x="497.71" y="137.54" width="13.17" height="5.53" fill="#a8ff38"/>
<rect x="510.58" y="137.54" width="13.17" height="5.53" fill="#40f8d0"/>
<rect x="523.45" y="137.54" width="13.17" height="5.53" fill="#0004b4"/>
<rect x="536.31" y="137.54" width="13.17" height="5.53" fill="#ff6400"/>
<rect x="549.18" y="137.54" width="13.17" height="5.53" fill="#ff3c3c"/>
<rect x="562.05" y="137.54" width="13.17" height="5.53" fill="#ffd800"/>
<rect x="574.92" y="137.54" width="13.17" height="5.53" fill="#0004b4"/>
<rect x="587.79" y="137.54" width="13.17" height="5.53" fill="#0c58dc"/>
<rect x="600.65" y="137.54" width="13.17" height="5.53" fill="#14c4f8"/>
<rect x="613.52" y="137.54" width="13.17" height="5.53" fill="#0c58dc"/>
<rect x="626.39" y="137.54" width="38.90" height="5.53" fill="#0004b4"/>
<rect x="665.00" y="137.54" width="13.17" height="5.53" fill="#0c58dc"/>
<rect x="677.86" y="137.54" width="26.04" height="5.53" fill="#40f8d0"/>
<rect x="420.50" y="142.78" width="103.25" height="5.53" fill="#0004b4"/>
<rect x="523.45" y="142.78" width="13.17" height="5.53" fill="#1088e8"/>
<rect x="536.31" y="142.78" width="13.17" height="5.53" fill="#60ffa0"/>
<rect x="549.18" y="142.78" width="13.17" height="5.53" fill="#ff5c5c"/>
<rect x="562.05" y="142.78" width="13.17" height="5.53" fill="#c8ff28"/>
<rect x="574.92" y="142.78" width="13.17" height="5.53" fill="#40f8d0"/>
<rect x="587.79" y="142.78" width="13.17" height="5.53" fill="#0c58dc"/>
<rect x="600.65" y="142.78" width="51.77" height="5.53" fill="#0004b4"/>
<rect x="652.13" y="142.78" width="26.04" height="5.53" fill="#40f8d0"/>
<rect x="677.86" y="142.78" width="13.17" height="5.53" fill="#0004b4"/>
<rect x="690.73" y="142.78" width="13.17" height="5.53" fill="#20f4fc"/>
<rect x="420.50" y="148.01" width="13.17" height="5.53" fill="#20f4fc"/>
<rect x="433.37" y="148.01" width="13.17" height="5.53" fill="#0828cc"/>
<rect x="446.24" y="148.01" width="13.17" height="5.53" fill="#14c4f8"/>
<rect x="459.10" y="148.01" width="38.90" height="5.53" fill="#1088e8"/>
<rect x="497.71" y="148.01" width="13.17" height="5.53" fill="#20f4fc"/>
<rect x="510.58" y="148.01" width="13.17" height="5.53" fill="#40f8d0"/>
<rect x="523.45" y="148.01" width="13.17" height="5.53" fill="#88ff58"/>
<rect x="536.31" y="148.01" width="13.17" height="5.53" fill="#c8ff28"/>
<rect x="549.18" y="148.01" width="13.17" height="5.53" fill="#ffe800"/>
<rect x="562.05" y="148.01" width="13.17" height="5.53" fill="#fcf800"/>
<rect x="574.92" y="148.01" width="13.17" height="5.53" fill="#a8ff38"/>
<rect x="587.79" y="148.01" width="13.17" height="5.53" fill="#88ff58"/>
<rect x="600.65" y="148.01" width="13.17" height="5.53" fill="#20f4fc"/>
<rect x="613.52" y="148.01" width="13.17" height="5.53" fill="#14c4f8"/>
<rect x="626.39" y="148.01" width="38.90" height="5.53" fill="#0c58dc"/>
<rect x="665.00" y="148.01" width="38.90" height="5.53" fill="#40f8d0"/>
<rect x="420.50" y="153.24" width="13.17" height="5.53" fill="#14c4f8"/>
<rect x="433.37" y="153.24" width="51.77" height="5.53" fill="#20f4fc"/>
<rect x="484.84" y="153.24" width="13.17" height="5.53" fill="#40f8d0"/>
<rect x="497.71" y="153.24" width="26.04" height="5.53" fill="#60ffa0"/>
<rect x="523.45" y="153.24" width="13.17" height="5.53" fill="#a8ff38"/>
<rect x="536.31" y="153.24" width="13.17" height="5.53" fill="#c8ff28"/>
<rect x="549.18" y="153.24" width="13.17" height="5.53" fill="#ffc000"/>
<rect x="562.05" y="153.24" width="13.17" height="5.53" fill="#000094"/>
<rect x="574.92" y="153.24" width="13.17" height="5.53" fill="#a8ff38"/>
<rect x="587.79" y="153.24" width="13.17" height="5.53" fill="#88ff58"/>
<rect x="600.65" y="153.24" width="13.17" height="5.53" fill="#60ffa0"/>
<rect x="613.52" y="153.24" width="26.04" height="5.53" fill="#40f8d0"/>
<rect x="639.26" y="153.24" width="26.04" height="5.53" fill="#20f4fc"/>
<rect x="665.00" y="153.24" width="38.90" height="5.53" fill="#14c4f8"/>
<rect x="420.50" y="158.47" width="13.17" height="5.53" fill="#20f4fc"/>
<rect x="433.37" y="158.47" width="13.17" height="5.53" fill="#1088e8"/>
<rect x="446.24" y="158.47" width="13.17" height="5.53" fill="#0c58dc"/>
<rect x="459.10" y="158.47" width="38.90" height="5.53" fill="#1088e8"/>
<rect x="497.71" y="158.47" width="13.17" height="5.53" fill="#0c58dc"/>
<rect x="510.58" y="158.47" width="13.17" height="5.53" fill="#20f4fc"/>
<rect x="523.45" y="158.47" width="13.17" height="5.53" fill="#1088e8"/>
<rect x="536.31" y="158.47" width="13.17" height="5.53" fill="#40f8d0"/>
<rect x="549.18" y="158.47" width="13.17" height="5.53" fill="#fcf800"/>
<rect x="562.05" y="158.47" width="13.17" height="5.53" fill="#0c58dc"/>
<rect x="574.92" y="158.47" width="13.17" height="5.53" fill="#20f4fc"/>
<rect x="587.79" y="158.47" width="26.04" height="5.53" fill="#1088e8"/>
<rect x="613.52" y="158.47" width="13.17" height="5.53" fill="#14c4f8"/>
<rect x="626.39" y="158.47" width="38.90" height="5.53" fill="#1088e8"/>
<rect x="665.00" y="158.47" width="13.17" height="5.53" fill="#40f8d0"/>
<rect x="677.86" y="158.47" width="26.04" height="5.53" fill="#0c58dc"/>
<rect x="420.50" y="163.71" width="77.51" height="5.53" fill="#0004b4"/>
<rect x="497.71" y="163.71" width="13.17" height="5.53" fill="#0828cc"/>
<rect x="510.58" y="163.71" width="13.17" height="5.53" fill="#40f8d0"/>
<rect x="523.45" y="163.71" width="13.17" height="5.53" fill="#ffe800"/>
<rect x="536.31" y="163.71" width="13.17" height="5.53" fill="#ff4000"/>
<rect x="549.18" y="163.71" width="13.17" height="5.53" fill="#ff5c5c"/>
<rect x="562.05" y="163.71" width="13.17" height="5.53" fill="#fcf800"/>
<rect x="574.92" y="163.71" width="13.17" height="5.53" fill="#40f8d0"/>
<rect x="587.79" y="163.71" width="13.17" height="5.53" fill="#0828cc"/>
<rect x="600.65" y="163.71" width="103.25" height="5.53" fill="#0004b4"/>
<rect x="420.50" y="168.94" width="51.77" height="5.53" fill="#0004b4"/>
<rect x="471.97" y="168.94" width="13.17" height="5.53" fill="#0828cc"/>
<rect x="484.84" y="168.94" width="13.17" height="5.53" fill="#14c4f8"/>
<rect x="497.71" y="168.94" width="13.17" height="5.53" fill="#88ff58"/>
<rect x="510.58" y="168.94" width="13.17" height="5.53" fill="#fcf800"/>
<rect x="523.45" y="168.94" width="13.17" height="5.53" fill="#ff3c3c"/>
<rect x="536.31" y="168.94" width="26.04" height="5.53" fill="#ff5c5c"/>
<rect x="562.05" y="168.94" width="13.17" height="5.53" fill="#ff3c3c"/>
<rect x="574.92" y="168.94" width="13.17" height="5.53" fill="#ffc000"/>
<rect x="587.79" y="168.94" width="13.17" height="5.53" fill="#a8ff38"/>
<rect x="600.65" y="168.94" width="13.17" height="5.53" fill="#14c4f8"/>
<rect x="613.52" y="168.94" width="13.17" height="5.53" fill="#0c58dc"/>
<rect x="626.39" y="168.94" width="64.64" height="5.53" fill="#0004b4"/>
<rect x="690.73" y="168.94" width="13.17" height="5.53" fill="#c8ff28"/>
<rect x="420.50" y="174.17" width="38.90" height="5.53" fill="#0004b4"/>
<rect x="459.10" y="174.17" width="13.17" height="5.53" fill="#0828cc"/>
<rect x="471.97" y="174.17" width="13.17" height="5.53" fill="#0c58dc"/>
<rect x="484.84" y="174.17" width="13.17" height="5.53" fill="#1088e8"/>
<rect x="497.71" y="174.17" width="13.17" height="5.53" fill="#14c4f8"/>
<rect x="510.58" y="174.17" width="13.17" height="5.53" fill="#0c58dc"/>
<rect x="523.45" y="174.17" width="13.17" height="5.53" fill="#0004b4"/>
<rect x="536.31" y="174.17" width="13.17" height="5.53" fill="#0c58dc"/>
<rect x="549.18" y="174.17" width="13.17" height="5.53" fill="#a8ff38"/>
<rect x="562.05" y="174.17" width="13.17" height="5.53" fill="#40f8d0"/>
<rect x="574.92" y="174.17" width="26.04" height="5.53" fill="#20f4fc"/>
<rect x="600.65" y="174.17" width="13.17" height="5.53" fill="#14c4f8"/>
<rect x="613.52" y="174.17" width="13.17" height="5.53" fill="#1088e8"/>
<rect x="626.39" y="174.17" width="13.17" height="5.53" fill="#0828cc"/>
<rect x="639.26" y="174.17" width="64.64" height="5.53" fill="#0004b4"/>
<rect x="420.50" y="179.41" width="206.19" height="5.53" fill="#0004b4"/>
<rect x="626.39" y="179.41" width="26.04" height="5.53" fill="#0828cc"/>
<rect x="652.13" y="179.41" width="51.77" height="5.53" fill="#0004b4"/>
<rect x="420.50" y="184.64" width="13.17" height="5.53" fill="#0004b4"/>
<rect x="433.37" y="184.64" width="38.90" height="5.53" fill="#0828cc"/>
<rect x="471.97" y="184.64" width="13.17" height="5.53" fill="#0c58dc"/>
<rect x="484.84" y="184.64" width="141.85" height="5.53" fill="#0004b4"/>
<rect x="626.39" y="184.64" width="13.17" height="5.53" fill="#0828cc"/>
<rect x="639.26" y="184.64" width="64.64" height="5.53" fill="#0004b4"/>
<rect x="420.50" y="189.87" width="13.17" height="5.53" fill="#0828cc"/>
<rect x="433.37" y="189.87" width="13.17" height="5.53" fill="#14c4f8"/>
<rect x="446.24" y="189.87" width="13.17" height="5.53" fill="#20f4fc"/>
<rect x="459.10" y="189.87" width="13.17" height="5.53" fill="#0004b4"/>
<rect x="471.97" y="189.87" width="13.17" height="5.53" fill="#0c58dc"/>
<rect x="484.84" y="189.87" width="141.85" height="5.53" fill="#0004b4"/>
<rect x="626.39" y="189.87" width="13.17" height="5.53" fill="#0c58dc"/>
<rect x="639.26" y="189.87" width="64.64" height="5.53" fill="#0004b4"/>
<rect x="420.50" y="195.10" width="13.17" height="5.53" fill="#14c4f8"/>
<rect x="433.37" y="195.10" width="13.17" height="5.53" fill="#1088e8"/>
<rect x="446.24" y="195.10" width="193.32" height="5.53" fill="#0004b4"/>
<rect x="639.26" y="195.10" width="13.17" height="5.53" fill="#0828cc"/>
<rect x="652.13" y="195.10" width="13.17" height="5.53" fill="#1088e8"/>
<rect x="665.00" y="195.10" width="13.17" height="5.53" fill="#14c4f8"/>
<rect x="677.86" y="195.10" width="26.04" height="5.53" fill="#1088e8"/>
<rect x="420.50" y="200.34" width="13.17" height="5.53" fill="#14c4f8"/>
<rect x="433.37" y="200.34" width="13.17" height="5.53" fill="#0c58dc"/>
<rect x="446.24" y="200.34" width="103.25" height="5.53" fill="#0004b4"/>
<rect x="549.18" y="200.34" width="13.17" height="5.53" fill="#c8ff28"/>
<rect x="562.05" y="200.34" width="77.51" height="5.53" fill="#0004b4"/>
<rect x="639.26" y="200.34" width="13.17" height="5.53" fill="#0828cc"/>
<rect x="652.13" y="200.34" width="13.17" height="5.53" fill="#14c4f8"/>
<rect x="665.00" y="200.34" width="13.17" height="5.53" fill="#20f4fc"/>
<rect x="677.86" y="200.34" width="13.17" height="5.53" fill="#0c58dc"/>
<rect x="690.73" y="200.34" width="13.17" height="5.53" fill="#0828cc"/>
<rect x="420.50" y="205.57" width="128.98" height="5.53" fill="#0004b4"/>
<rect x="549.18" y="205.57" width="13.17" height="5.53" fill="#20f4fc"/>
<rect x="562.05" y="205.57" width="141.85" height="5.53" fill="#0004b4"/>
<rect x="37.30" y="282.30" width="107.21" height="5.53" fill="#ffb000"/>
<rect x="144.21" y="282.30" width="27.03" height="5.53" fill="#ff8400"/>
<rect x="170.94" y="282.30" width="80.48" height="5.53" fill="#ffb000"/>
<rect x="251.12" y="282.30" width="27.03" height="5.53" fill="#ff9a00"/>
<rect x="277.85" y="282.30" width="27.03" height="5.53" fill="#ff8400"/>
<rect x="304.57" y="282.30" width="27.03" height="5.53" fill="#ff9a00"/>
<rect x="37.30" y="287.53" width="187.39" height="5.53" fill="#ffb000"/>
<rect x="224.39" y="287.53" width="27.03" height="5.53" fill="#ff9a00"/>
<rect x="251.12" y="287.53" width="53.75" height="5.53" fill="#ff8400"/>
<rect x="304.57" y="287.53" width="27.03" height="5.53" fill="#fcf800"/>
<rect x="37.30" y="292.76" width="80.48" height="5.53" fill="#ffb000"/>
<rect x="117.48" y="292.76" width="27.03" height="5.53" fill="#ff9a00"/>
<rect x="144.21" y="292.76" width="80.48" height="5.53" fill="#ffb000"/>
<rect x="224.39" y="292.76" width="27.03" height="5.53" fill="#ff9a00"/>
<rect x="251.12" y="292.76" width="27.03" height="5.53" fill="#ff6400"/>
<rect x="277.85" y="292.76" width="27.03" height="5.53" fill="#ffe800"/>
<rect x="304.57" y="292.76" width="27.03" height="5.53" fill="#60ffa0"/>
<rect x="37.30" y="298.00" width="160.66" height="5.53" fill="#ffb000"/>
<rect x="197.66" y="298.00" width="80.48" height="5.53" fill="#ff9a00"/>
<rect x="277.85" y="298.00" width="27.03" height="5.53" fill="#c8ff28"/>
<rect x="304.57" y="298.00" width="27.03" height="5.53" fill="#0004b4"/>
<rect x="37.30" y="303.23" width="160.66" height="5.53" fill="#ffb000"/>
<rect x="197.66" y="303.23" width="27.03" height="5.53" fill="#ff9a00"/>
<rect x="224.39" y="303.23" width="27.03" height="5.53" fill="#ffb000"/>
<rect x="251.12" y="303.23" width="27.03" height="5.53" fill="#ffe800"/>
<rect x="277.85" y="303.23" width="27.03" height="5.53" fill="#60ffa0"/>
<rect x="304.57" y="303.23" width="27.03" height="5.53" fill="#000094"/>
<rect x="37.30" y="308.46" width="27.03" height="5.53" fill="#ffb000"/>
<rect x="64.03" y="308.46" width="53.75" height="5.53" fill="#ff4000"/>
<rect x="117.48" y="308.46" width="53.75" height="5.53" fill="#ff6400"/>
<rect x="170.94" y="308.46" width="27.03" height="5.53" fill="#ff8400"/>
<rect x="197.66" y="308.46" width="53.75" height="5.53" fill="#ffb000"/>
<rect x="251.12" y="308.46" width="27.03" height="5.53" fill="#ff9a00"/>
<rect x="277.85" y="308.46" width="27.03" height="5.53" fill="#60ffa0"/>
<rect x="304.57" y="308.46" width="27.03" height="5.53" fill="#88ff58"/>
<rect x="37.30" y="313.69" width="27.03" height="5.53" fill="#ff3c3c"/>
<rect x="64.03" y="313.69" width="53.75" height="5.53" fill="#ff5c5c"/>
<rect x="117.48" y="313.69" width="27.03" height="5.53" fill="#ff3c3c"/>
<rect x="144.21" y="313.69" width="27.03" height="5.53" fill="#ff1810"/>
<rect x="170.94" y="313.69" width="27.03" height="5.53" fill="#ff8400"/>
<rect x="197.66" y="313.69" width="27.03" height="5.53" fill="#ffb000"/>
<rect x="224.39" y="313.69" width="27.03" height="5.53" fill="#ffc400"/>
<rect x="251.12" y="313.69" width="27.03" height="5.53" fill="#fcf800"/>
<rect x="277.85" y="313.69" width="27.03" height="5.53" fill="#a8ff38"/>
<rect x="304.57" y="313.69" width="27.03" height="5.53" fill="#40f8d0"/>
<rect x="37.30" y="318.93" width="27.03" height="5.53" fill="#ff3c3c"/>
<rect x="64.03" y="318.93" width="27.03" height="5.53" fill="#ff5c5c"/>
<rect x="90.75" y="318.93" width="27.03" height="5.53" fill="#ff3c3c"/>
<rect x="117.48" y="318.93" width="27.03" height="5.53" fill="#ff1810"/>
<rect x="144.21" y="318.93" width="27.03" height="5.53" fill="#ff8400"/>
<rect x="170.94" y="318.93" width="27.03" height="5.53" fill="#ffc400"/>
<rect x="197.66" y="318.93" width="53.75" height="5.53" fill="#ffb000"/>
<rect x="251.12" y="318.93" width="27.03" height="5.53" fill="#ffd800"/>
<rect x="277.85" y="318.93" width="27.03" height="5.53" fill="#ffc400"/>
<rect x="304.57" y="318.93" width="27.03" height="5.53" fill="#e0ff18"/>
<rect x="37.30" y="324.16" width="27.03" height="5.53" fill="#ff9a00"/>
<rect x="64.03" y="324.16" width="27.03" height="5.53" fill="#ffb000"/>
<rect x="90.75" y="324.16" width="53.75" height="5.53" fill="#ff1810"/>
<rect x="144.21" y="324.16" width="27.03" height="5.53" fill="#ff6400"/>
<rect x="170.94" y="324.16" width="80.48" height="5.53" fill="#ff8400"/>
<rect x="251.12" y="324.16" width="80.48" height="5.53" fill="#ff9a00"/>
<rect x="37.30" y="329.39" width="27.03" height="5.53" fill="#ff9a00"/>
<rect x="64.03" y="329.39" width="27.03" height="5.53" fill="#ff8400"/>
<rect x="90.75" y="329.39" width="53.75" height="5.53" fill="#ff1810"/>
<rect x="144.21" y="329.39" width="27.03" height="5.53" fill="#ff4000"/>
<rect x="170.94" y="329.39" width="80.48" height="5.53" fill="#ff6400"/>
<rect x="251.12" y="329.39" width="80.48" height="5.53" fill="#ff8400"/>
<rect x="37.30" y="334.62" width="27.03" height="5.53" fill="#ff4000"/>
<rect x="64.03" y="334.62" width="27.03" height="5.53" fill="#ff1810"/>
<rect x="90.75" y="334.62" width="53.75" height="5.53" fill="#ff4000"/>
<rect x="144.21" y="334.62" width="80.48" height="5.53" fill="#ff8400"/>
<rect x="224.39" y="334.62" width="27.03" height="5.53" fill="#ff9a00"/>
<rect x="251.12" y="334.62" width="27.03" height="5.53" fill="#ff4000"/>
<rect x="277.85" y="334.62" width="27.03" height="5.53" fill="#ff8400"/>
<rect x="304.57" y="334.62" width="27.03" height="5.53" fill="#ff9a00"/>
<rect x="37.30" y="339.86" width="27.03" height="5.53" fill="#ff4000"/>
<rect x="64.03" y="339.86" width="27.03" height="5.53" fill="#ff1810"/>
<rect x="90.75" y="339.86" width="27.03" height="5.53" fill="#ff6400"/>
<rect x="117.48" y="339.86" width="27.03" height="5.53" fill="#ff1810"/>
<rect x="144.21" y="339.86" width="27.03" height="5.53" fill="#ffc400"/>
<rect x="170.94" y="339.86" width="53.75" height="5.53" fill="#ffb000"/>
<rect x="224.39" y="339.86" width="27.03" height="5.53" fill="#ffc400"/>
<rect x="251.12" y="339.86" width="27.03" height="5.53" fill="#ff4000"/>
<rect x="277.85" y="339.86" width="27.03" height="5.53" fill="#ff8400"/>
<rect x="304.57" y="339.86" width="27.03" height="5.53" fill="#fcf800"/>
<rect x="37.30" y="345.09" width="27.03" height="5.53" fill="#ff3c3c"/>
<rect x="64.03" y="345.09" width="80.48" height="5.53" fill="#ff1810"/>
<rect x="144.21" y="345.09" width="27.03" height="5.53" fill="#ff4000"/>
<rect x="170.94" y="345.09" width="27.03" height="5.53" fill="#ff8400"/>
<rect x="197.66" y="345.09" width="27.03" height="5.53" fill="#ffb000"/>
<rect x="224.39" y="345.09" width="27.03" height="5.53" fill="#ffc400"/>
<rect x="251.12" y="345.09" width="27.03" height="5.53" fill="#ff9a00"/>
<rect x="277.85" y="345.09" width="27.03" height="5.53" fill="#ff6400"/>
<rect x="304.57" y="345.09" width="27.03" height="5.53" fill="#fcf800"/>
<rect x="37.30" y="350.32" width="27.03" height="5.53" fill="#ffb000"/>
<rect x="64.03" y="350.32" width="27.03" height="5.53" fill="#ff6400"/>
<rect x="90.75" y="350.32" width="27.03" height="5.53" fill="#ff4000"/>
<rect x="117.48" y="350.32" width="53.75" height="5.53" fill="#ff6400"/>
<rect x="170.94" y="350.32" width="27.03" height="5.53" fill="#ff9a00"/>
<rect x="197.66" y="350.32" width="27.03" height="5.53" fill="#ffb000"/>
<rect x="224.39" y="350.32" width="27.03" height="5.53" fill="#ffc400"/>
<rect x="251.12" y="350.32" width="27.03" height="5.53" fill="#ffd800"/>
<rect x="277.85" y="350.32" width="27.03" height="5.53" fill="#60ffa0"/>
<rect x="304.57" y="350.32" width="27.03" height="5.53" fill="#000094"/>
<rect x="37.30" y="355.56" width="27.03" height="5.53" fill="#ffb000"/>
<rect x="64.03" y="355.56" width="53.75" height="5.53" fill="#ff8400"/>
<rect x="117.48" y="355.56" width="27.03" height="5.53" fill="#ff9a00"/>
<rect x="144.21" y="355.56" width="107.21" height="5.53" fill="#ffb000"/>
<rect x="251.12" y="355.56" width="27.03" height="5.53" fill="#ffd800"/>
<rect x="277.85" y="355.56" width="27.03" height="5.53" fill="#60ffa0"/>
<rect x="304.57" y="355.56" width="27.03" height="5.53" fill="#000094"/>
<rect x="37.30" y="360.79" width="53.75" height="5.53" fill="#ffb000"/>
<rect x="90.75" y="360.79" width="53.75" height="5.53" fill="#ff8400"/>
<rect x="144.21" y="360.79" width="80.48" height="5.53" fill="#ffb000"/>
<rect x="224.39" y="360.79" width="27.03" height="5.53" fill="#ff9a00"/>
<rect x="251.12" y="360.79" width="27.03" height="5.53" fill="#ffc400"/>
<rect x="277.85" y="360.79" width="27.03" height="5.53" fill="#a8ff38"/>
<rect x="304.57" y="360.79" width="27.03" height="5.53" fill="#0004b4"/>
<rect x="37.30" y="366.02" width="53.75" height="5.53" fill="#ffb000"/>
<rect x="90.75" y="366.02" width="53.75" height="5.53" fill="#ff9a00"/>
<rect x="144.21" y="366.02" width="27.03" height="5.53" fill="#ff8400"/>
<rect x="170.94" y="366.02" width="27.03" height="5.53" fill="#ff6400"/>
<rect x="197.66" y="366.02" width="27.03" height="5.53" fill="#ffb000"/>
<rect x="224.39" y="366.02" width="53.75" height="5.53" fill="#ff9a00"/>
<rect x="277.85" y="366.02" width="27.03" height="5.53" fill="#fcf800"/>
<rect x="304.57" y="366.02" width="27.03" height="5.53" fill="#88ff58"/>
<rect x="37.30" y="371.25" width="187.39" height="5.53" fill="#ffb000"/>
<rect x="224.39" y="371.25" width="27.03" height="5.53" fill="#ff9a00"/>
<rect x="251.12" y="371.25" width="27.03" height="5.53" fill="#ff8400"/>
<rect x="277.85" y="371.25" width="27.03" height="5.53" fill="#ffc400"/>
<rect x="304.57" y="371.25" width="27.03" height="5.53" fill="#88ff58"/>
<rect x="37.30" y="376.49" width="133.94" height="5.53" fill="#ffb000"/>
<rect x="170.94" y="376.49" width="27.03" height="5.53" fill="#ff1810"/>
<rect x="197.66" y="376.49" width="53.75" height="5.53" fill="#ffb000"/>
<rect x="251.12" y="376.49" width="27.03" height="5.53" fill="#ff9a00"/>
<rect x="277.85" y="376.49" width="27.03" height="5.53" fill="#ff8400"/>
<rect x="304.57" y="376.49" width="27.03" height="5.53" fill="#ff9a00"/>
<rect x="37.30" y="381.72" width="107.21" height="5.53" fill="#ffb000"/>
<rect x="144.21" y="381.72" width="27.03" height="5.53" fill="#ff8400"/>
<rect x="170.94" y="381.72" width="27.03" height="5.53" fill="#ff9a00"/>
<rect x="197.66" y="381.72" width="80.48" height="5.53" fill="#ffb000"/>
<rect x="277.85" y="381.72" width="53.75" height="5.53" fill="#ff9a00"/>
<rect x="37.30" y="386.95" width="133.94" height="5.53" fill="#ffb000"/>
<rect x="170.94" y="386.95" width="27.03" height="5.53" fill="#ff9a00"/>
<rect x="197.66" y="386.95" width="80.48" height="5.53" fill="#ffb000"/>
<rect x="277.85" y="386.95" width="27.03" height="5.53" fill="#ff9a00"/>
<rect x="304.57" y="386.95" width="27.03" height="5.53" fill="#fcf800"/>
<rect x="37.30" y="392.18" width="187.39" height="5.53" fill="#ffb000"/>
<rect x="224.39" y="392.18" width="80.48" height="5.53" fill="#ff9a00"/>
<rect x="304.57" y="392.18" width="27.03" height="5.53" fill="#60ffa0"/>
<rect x="37.30" y="397.42" width="53.75" height="5.53" fill="#ffb000"/>
<rect x="90.75" y="397.42" width="53.75" height="5.53" fill="#ff9a00"/>
<rect x="144.21" y="397.42" width="27.03" height="5.53" fill="#ff8400"/>
<rect x="170.94" y="397.42" width="27.03" height="5.53" fill="#ff6400"/>
<rect x="197.66" y="397.42" width="27.03" height="5.53" fill="#ffb000"/>
<rect x="224.39" y="397.42" width="53.75" height="5.53" fill="#ff9a00"/>
<rect x="277.85" y="397.42" width="27.03" height="5.53" fill="#e0ff18"/>
<rect x="304.57" y="397.42" width="27.03" height="5.53" fill="#60ffa0"/>
<rect x="37.30" y="402.65" width="27.03" height="5.53" fill="#ffb000"/>
<rect x="64.03" y="402.65" width="53.75" height="5.53" fill="#ff9a00"/>
<rect x="117.48" y="402.65" width="27.03" height="5.53" fill="#ff8400"/>
<rect x="144.21" y="402.65" width="27.03" height="5.53" fill="#ffb000"/>
<rect x="170.94" y="402.65" width="27.03" height="5.53" fill="#ff9a00"/>
<rect x="197.66" y="402.65" width="27.03" height="5.53" fill="#ffb000"/>
<rect x="224.39" y="402.65" width="53.75" height="5.53" fill="#ff9a00"/>
<rect x="277.85" y="402.65" width="27.03" height="5.53" fill="#88ff58"/>
<rect x="304.57" y="402.65" width="27.03" height="5.53" fill="#0004b4"/>
<rect x="37.30" y="407.88" width="53.75" height="5.53" fill="#ffb000"/>
<rect x="90.75" y="407.88" width="27.03" height="5.53" fill="#ff4000"/>
<rect x="117.48" y="407.88" width="27.03" height="5.53" fill="#ff9a00"/>
<rect x="144.21" y="407.88" width="27.03" height="5.53" fill="#ffc400"/>
<rect x="170.94" y="407.88" width="80.48" height="5.53" fill="#ffb000"/>
<rect x="251.12" y="407.88" width="27.03" height="5.53" fill="#ffe800"/>
<rect x="277.85" y="407.88" width="27.03" height="5.53" fill="#60ffa0"/>
<rect x="304.57" y="407.88" width="27.03" height="5.53" fill="#000094"/>
<rect x="37.30" y="413.11" width="27.03" height="5.53" fill="#ffb000"/>
<rect x="64.03" y="413.11" width="53.75" height="5.53" fill="#ff4000"/>
<rect x="117.48" y="413.11" width="53.75" height="5.53" fill="#ff6400"/>
<rect x="170.94" y="413.11" width="27.03" height="5.53" fill="#ff9a00"/>
<rect x="197.66" y="413.11" width="27.03" height="5.53" fill="#ffb000"/>
<rect x="224.39" y="413.11" width="27.03" height="5.53" fill="#ffc400"/>
<rect x="251.12" y="413.11" width="27.03" height="5.53" fill="#fcf800"/>
<rect x="277.85" y="413.11" width="27.03" height="5.53" fill="#60ffa0"/>
<rect x="304.57" y="413.11" width="27.03" height="5.53" fill="#88ff58"/>
<rect x="37.30" y="418.35" width="27.03" height="5.53" fill="#ff3c3c"/>
<rect x="64.03" y="418.35" width="27.03" height="5.53" fill="#ff1810"/>
<rect x="90.75" y="418.35" width="53.75" height="5.53" fill="#ff3c3c"/>
<rect x="144.21" y="418.35" width="27.03" height="5.53" fill="#ff4000"/>
<rect x="170.94" y="418.35" width="27.03" height="5.53" fill="#ff8400"/>
<rect x="197.66" y="418.35" width="27.03" height="5.53" fill="#ffb000"/>
<rect x="224.39" y="418.35" width="27.03" height="5.53" fill="#ffc400"/>
<rect x="251.12" y="418.35" width="27.03" height="5.53" fill="#ff9a00"/>
<rect x="277.85" y="418.35" width="27.03" height="5.53" fill="#ff4000"/>
<rect x="304.57" y="418.35" width="27.03" height="5.53" fill="#e0ff18"/>
<rect x="37.30" y="423.58" width="27.03" height="5.53" fill="#ff4000"/>
<rect x="64.03" y="423.58" width="27.03" height="5.53" fill="#ff5c5c"/>
<rect x="90.75" y="423.58" width="27.03" height="5.53" fill="#ff4000"/>
<rect x="117.48" y="423.58" width="53.75" height="5.53" fill="#ff9a00"/>
<rect x="170.94" y="423.58" width="27.03" height="5.53" fill="#ffc400"/>
<rect x="197.66" y="423.58" width="53.75" height="5.53" fill="#ffb000"/>
<rect x="251.12" y="423.58" width="27.03" height="5.53" fill="#ff4000"/>
<rect x="277.85" y="423.58" width="27.03" height="5.53" fill="#ff6400"/>
<rect x="304.57" y="423.58" width="27.03" height="5.53" fill="#fcf800"/>
<rect x="37.30" y="428.81" width="27.03" height="5.53" fill="#ff4000"/>
<rect x="64.03" y="428.81" width="80.48" height="5.53" fill="#ff1810"/>
<rect x="144.21" y="428.81" width="27.03" height="5.53" fill="#ff6400"/>
<rect x="170.94" y="428.81" width="27.03" height="5.53" fill="#ff8400"/>
<rect x="197.66" y="428.81" width="53.75" height="5.53" fill="#ff9a00"/>
<rect x="251.12" y="428.81" width="53.75" height="5.53" fill="#ff4000"/>
<rect x="304.57" y="428.81" width="27.03" height="5.53" fill="#ff9a00"/>
<rect x="37.30" y="434.04" width="27.03" height="5.53" fill="#ff9a00"/>
<rect x="64.03" y="434.04" width="27.03" height="5.53" fill="#ff4000"/>
<rect x="90.75" y="434.04" width="27.03" height="5.53" fill="#ff6400"/>
<rect x="117.48" y="434.04" width="27.03" height="5.53" fill="#ff1810"/>
<rect x="144.21" y="434.04" width="27.03" height="5.53" fill="#ff4000"/>
<rect x="170.94" y="434.04" width="133.94" height="5.53" fill="#ff6400"/>
<rect x="304.57" y="434.04" width="27.03" height="5.53" fill="#ff9a00"/>
<rect x="37.30" y="439.27" width="27.03" height="5.53" fill="#ff9a00"/>
<rect x="64.03" y="439.27" width="27.03" height="5.53" fill="#ff1810"/>
<rect x="90.75" y="439.27" width="53.75" height="5.53" fill="#ff6400"/>
<rect x="144.21" y="439.27" width="27.03" height="5.53" fill="#ff8400"/>
<rect x="170.94" y="439.27" width="27.03" height="5.53" fill="#ff9a00"/>
<rect x="197.66" y="439.27" width="53.75" height="5.53" fill="#ff8400"/>
<rect x="251.12" y="439.27" width="53.75" height="5.53" fill="#ff6400"/>
<rect x="304.57" y="439.27" width="27.03" height="5.53" fill="#ffb000"/>
<rect x="37.30" y="444.51" width="27.03" height="5.53" fill="#ff3c3c"/>
<rect x="64.03" y="444.51" width="27.03" height="5.53" fill="#ff5c5c"/>
<rect x="90.75" y="444.51" width="27.03" height="5.53" fill="#ff3c3c"/>
<rect x="117.48" y="444.51" width="27.03" height="5.53" fill="#ff1810"/>
<rect x="144.21" y="444.51" width="27.03" height="5.53" fill="#ff8400"/>
<rect x="170.94" y="444.51" width="27.03" height="5.53" fill="#ffc400"/>
<rect x="197.66" y="444.51" width="53.75" height="5.53" fill="#ffb000"/>
<rect x="251.12" y="444.51" width="27.03" height="5.53" fill="#ffd800"/>
<rect x="277.85" y="444.51" width="27.03" height="5.53" fill="#fcf800"/>
<rect x="304.57" y="444.51" width="27.03" height="5.53" fill="#e0ff18"/>
<rect x="37.30" y="449.74" width="27.03" height="5.53" fill="#ff3c3c"/>
<rect x="64.03" y="449.74" width="27.03" height="5.53" fill="#ff5c5c"/>
<rect x="90.75" y="449.74" width="27.03" height="5.53" fill="#ff3c3c"/>
<rect x="117.48" y="449.74" width="27.03" height="5.53" fill="#ff5c5c"/>
<rect x="144.21" y="449.74" width="27.03" height="5.53" fill="#ff1810"/>
<rect x="170.94" y="449.74" width="27.03" height="5.53" fill="#ff8400"/>
<rect x="197.66" y="449.74" width="27.03" height="5.53" fill="#ffb000"/>
<rect x="224.39" y="449.74" width="27.03" height="5.53" fill="#ffc400"/>
<rect x="251.12" y="449.74" width="27.03" height="5.53" fill="#ff9a00"/>
<rect x="277.85" y="449.74" width="27.03" height="5.53" fill="#ff1810"/>
<rect x="304.57" y="449.74" width="27.03" height="5.53" fill="#e0ff18"/>
<rect x="37.30" y="454.97" width="27.03" height="5.53" fill="#ffb000"/>
<rect x="64.03" y="454.97" width="53.75" height="5.53" fill="#ff4000"/>
<rect x="117.48" y="454.97" width="53.75" height="5.53" fill="#ff6400"/>
<rect x="170.94" y="454.97" width="27.03" height="5.53" fill="#ff8400"/>
<rect x="197.66" y="454.97" width="27.03" height="5.53" fill="#ffb000"/>
<rect x="224.39" y="454.97" width="27.03" height="5.53" fill="#ffc400"/>
<rect x="251.12" y="454.97" width="27.03" height="5.53" fill="#fcf800"/>
<rect x="277.85" y="454.97" width="27.03" height="5.53" fill="#40f8d0"/>
<rect x="304.57" y="454.97" width="27.03" height="5.53" fill="#000094"/>
<rect x="37.30" y="460.21" width="214.12" height="5.53" fill="#ffb000"/>
<rect x="251.12" y="460.21" width="27.03" height="5.53" fill="#ffc400"/>
<rect x="277.85" y="460.21" width="27.03" height="5.53" fill="#60ffa0"/>
<rect x="304.57" y="460.21" width="27.03" height="5.53" fill="#000094"/>
<rect x="37.30" y="465.44" width="214.12" height="5.53" fill="#ffb000"/>
<rect x="251.12" y="465.44" width="27.03" height="5.53" fill="#ff9a00"/>
<rect x="277.85" y="465.44" width="27.03" height="5.53" fill="#c8ff28"/>
<rect x="304.57" y="465.44" width="27.03" height="5.53" fill="#0004b4"/>
<rect x="37.30" y="470.67" width="187.39" height="5.53" fill="#ffb000"/>
<rect x="224.39" y="470.67" width="27.03" height="5.53" fill="#ff9a00"/>
<rect x="251.12" y="470.67" width="27.03" height="5.53" fill="#ff6400"/>
<rect x="277.85" y="470.67" width="27.03" height="5.53" fill="#fcf800"/>
<rect x="304.57" y="470.67" width="27.03" height="5.53" fill="#60ffa0"/>
<rect x="37.30" y="475.90" width="214.12" height="5.53" fill="#ffb000"/>
<rect x="251.12" y="475.90" width="27.03" height="5.53" fill="#ff8400"/>
<rect x="277.85" y="475.90" width="27.03" height="5.53" fill="#ff9a00"/>
<rect x="304.57" y="475.90" width="27.03" height="5.53" fill="#fcf800"/>
<rect x="37.30" y="481.13" width="107.21" height="5.53" fill="#ffb000"/>
<rect x="144.21" y="481.13" width="27.03" height="5.53" fill="#ff8400"/>
<rect x="170.94" y="481.13" width="27.03" height="5.53" fill="#ff1810"/>
<rect x="197.66" y="481.13" width="53.75" height="5.53" fill="#ffb000"/>
<rect x="251.12" y="481.13" width="27.03" height="5.53" fill="#ff9a00"/>
<rect x="277.85" y="481.13" width="27.03" height="5.53" fill="#ff8400"/>
<rect x="304.57" y="481.13" width="27.03" height="5.53" fill="#ffb000"/>
<rect x="37.30" y="486.37" width="107.21" height="5.53" fill="#ffb000"/>
<rect x="144.21" y="486.37" width="27.03" height="5.53" fill="#ff8400"/>
<rect x="170.94" y="486.37" width="27.03" height="5.53" fill="#ff9a00"/>
<rect x="197.66" y="486.37" width="133.94" height="5.53" fill="#ffb000"/>
</g>
<line x1="37.30" y1="0.00" x2="37.30" y2="212.60" stroke="#000" stroke-width="1.5"/>
<line x1="331.00" y1="0.00" x2="331.00" y2="212.60" stroke="#000" stroke-width="1.5"/>
<line x1="36.60" y1="0.80" x2="331.70" y2="0.80" stroke="#000" stroke-width="1.5"/>
<line x1="36.60" y1="211.90" x2="331.70" y2="211.90" stroke="#000" stroke-width="1.5"/>
<line x1="43.72" y1="211.90" x2="43.72" y2="209.10" stroke="#000" stroke-width="1.1"/>
<line x1="43.72" y1="0.80" x2="43.72" y2="3.60" stroke="#000" stroke-width="1.1"/>
<line x1="75.83" y1="211.90" x2="75.83" y2="209.10" stroke="#000" stroke-width="1.1"/>
<line x1="75.83" y1="0.80" x2="75.83" y2="3.60" stroke="#000" stroke-width="1.1"/>
<line x1="100.74" y1="211.90" x2="100.74" y2="209.10" stroke="#000" stroke-width="1.1"/>
<line x1="100.74" y1="0.80" x2="100.74" y2="3.60" stroke="#000" stroke-width="1.1"/>
<line x1="121.08" y1="211.90" x2="121.08" y2="209.10" stroke="#000" stroke-width="1.1"/>
<line x1="121.08" y1="0.80" x2="121.08" y2="3.60" stroke="#000" stroke-width="1.1"/>
<line x1="138.29" y1="211.90" x2="138.29" y2="209.10" stroke="#000" stroke-width="1.1"/>
<line x1="138.29" y1="0.80" x2="138.29" y2="3.60" stroke="#000" stroke-width="1.1"/>
<line x1="153.19" y1="211.90" x2="153.19" y2="209.10" stroke="#000" stroke-width="1.1"/>
<line x1="153.19" y1="0.80" x2="153.19" y2="3.60" stroke="#000" stroke-width="1.1"/>
<line x1="166.34" y1="211.90" x2="166.34" y2="209.10" stroke="#000" stroke-width="1.1"/>
<line x1="166.34" y1="0.80" x2="166.34" y2="3.60" stroke="#000" stroke-width="1.1"/>
<line x1="178.10" y1="211.90" x2="178.10" y2="206.40" stroke="#000" stroke-width="1.1"/>
<line x1="178.10" y1="0.80" x2="178.10" y2="6.30" stroke="#000" stroke-width="1.1"/>
<line x1="255.46" y1="211.90" x2="255.46" y2="209.10" stroke="#000" stroke-width="1.1"/>
<line x1="255.46" y1="0.80" x2="255.46" y2="3.60" stroke="#000" stroke-width="1.1"/>
<line x1="300.72" y1="211.90" x2="300.72" y2="209.10" stroke="#000" stroke-width="1.1"/>
<line x1="300.72" y1="0.80" x2="300.72" y2="3.60" stroke="#000" stroke-width="1.1"/>
<text x="100.74" y="227.90" font-size="13" font-family="Liberation Sans, sans-serif" font-weight="bold" text-anchor="middle">0.5</text>
<text x="178.10" y="227.90" font-size="13" font-family="Liberation Sans, sans-serif" font-weight="bold" text-anchor="middle">1</text>
<text x="255.46" y="227.90" font-size="13" font-family="Liberation Sans, sans-serif" font-weight="bold" text-anchor="middle">2</text>
<line x1="37.30" y1="10.00" x2="42.80" y2="10.00" stroke="#000" stroke-width="1.1"/>
<line x1="331.00" y1="10.00" x2="325.50" y2="10.00" stroke="#000" stroke-width="1.1"/>
<line x1="37.30" y1="58.15" x2="42.80" y2="58.15" stroke="#000" stroke-width="1.1"/>
<line x1="331.00" y1="58.15" x2="325.50" y2="58.15" stroke="#000" stroke-width="1.1"/>
<line x1="37.30" y1="43.66" x2="40.10" y2="43.66" stroke="#000" stroke-width="1.1"/>
<line x1="331.00" y1="43.66" x2="328.20" y2="43.66" stroke="#000" stroke-width="1.1"/>
<line x1="37.30" y1="35.18" x2="40.10" y2="35.18" stroke="#000" stroke-width="1.1"/>
<line x1="331.00" y1="35.18" x2="328.20" y2="35.18" stroke="#000" stroke-width="1.1"/>
<line x1="37.30" y1="29.16" x2="40.10" y2="29.16" stroke="#000" stroke-width="1.1"/>
<line x1="331.00" y1="29.16" x2="328.20" y2="29.16" stroke="#000" stroke-width="1.1"/>
<line x1="37.30" y1="24.49" x2="40.10" y2="24.49" stroke="#000" stroke-width="1.1"/>
<line x1="331.00" y1="24.49" x2="328.20" y2="24.49" stroke="#000" stroke-width="1.1"/>
<line x1="37.30" y1="20.68" x2="40.10" y2="20.68" stroke="#000" stroke-width="1.1"/>
<line x1="331.00" y1="20.68" x2="328.20" y2="20.68" stroke="#000" stroke-width="1.1"/>
<line x1="37.30" y1="17.46" x2="40.10" y2="17.46" stroke="#000" stroke-width="1.1"/>
<line x1="331.00" y1="17.46" x2="328.20" y2="17.46" stroke="#000" stroke-width="1.1"/>
<line x1="37.30" y1="14.67" x2="40.10" y2="14.67" stroke="#000" stroke-width="1.1"/>
<line x1="331.00" y1="14.67" x2="328.20" y2="14.67" stroke="#000" stroke-width="1.1"/>
<line x1="37.30" y1="12.20" x2="40.10" y2="12.20" stroke="#000" stroke-width="1.1"/>
<line x1="331.00" y1="12.20" x2="328.20" y2="12.20" stroke="#000" stroke-width="1.1"/>
<line x1="37.30" y1="106.30" x2="42.80" y2="106.30" stroke="#000" stroke-width="1.1"/>
<line x1="331.00" y1="106.30" x2="325.50" y2="106.30" stroke="#000" stroke-width="1.1"/>
<line x1="37.30" y1="91.81" x2="40.10" y2="91.81" stroke="#000" stroke-width="1.1"/>
<line x1="331.00" y1="91.81" x2="328.20" y2="91.81" stroke="#000" stroke-width="1.1"/>
<line x1="37.30" y1="83.33" x2="40.10" y2="83.33" stroke="#000" stroke-width="1.1"/>
<line x1="331.00" y1="83.33" x2="328.20" y2="83.33" stroke="#000" stroke-width="1.1"/>
<line x1="37.30" y1="77.31" x2="40.10" y2="77.31" stroke="#000" stroke-width="1.1"/>
<line x1="331.00" y1="77.31" x2="328.20" y2="77.31" stroke="#000" stroke-width="1.1"/>
<line x1="37.30" y1="72.64" x2="40.10" y2="72.64" stroke="#000" stroke-width="1.1"/>
<line x1="331.00" y1="72.64" x2="328.20" y2="72.64" stroke="#000" stroke-width="1.1"/>
<line x1="37.30" y1="68.83" x2="40.10" y2="68.83" stroke="#000" stroke-width="1.1"/>
<line x1="331.00" y1="68.83" x2="328.20" y2="68.83" stroke="#000" stroke-width="1.1"/>
<line x1="37.30" y1="65.61" x2="40.10" y2="65.61" stroke="#000" stroke-width="1.1"/>
<line x1="331.00" y1="65.61" x2="328.20" y2="65.61" stroke="#000" stroke-width="1.1"/>
<line x1="37.30" y1="62.82" x2="40.10" y2="62.82" stroke="#000" stroke-width="1.1"/>
<line x1="331.00" y1="62.82" x2="328.20" y2="62.82" stroke="#000" stroke-width="1.1"/>
<line x1="37.30" y1="60.35" x2="40.10" y2="60.35" stroke="#000" stroke-width="1.1"/>
<line x1="331.00" y1="60.35" x2="328.20" y2="60.35" stroke="#000" stroke-width="1.1"/>
<line x1="37.30" y1="154.45" x2="42.80" y2="154.45" stroke="#000" stroke-width="1.1"/>
<line x1="331.00" y1="154.45" x2="325.50" y2="154.45" stroke="#000" stroke-width="1.1"/>
<line x1="37.30" y1="139.96" x2="40.10" y2="139.96" stroke="#000" stroke-width="1.1"/>
<line x1="331.00" y1="139.96" x2="328.20" y2="139.96" stroke="#000" stroke-width="1.1"/>
<line x1="37.30" y1="131.48" x2="40.10" y2="131.48" stroke="#000" stroke-width="1.1"/>
<line x1="331.00" y1="131.48" x2="328.20" y2="131.48" stroke="#000" stroke-width="1.1"/>
<line x1="37.30" y1="125.46" x2="40.10" y2="125.46" stroke="#000" stroke-width="1.1"/>
<line x1="331.00" y1="125.46" x2="328.20" y2="125.46" stroke="#000" stroke-width="1.1"/>
<line x1="37.30" y1="120.79" x2="40.10" y2="120.79" stroke="#000" stroke-width="1.1"/>
<line x1="331.00" y1="120.79" x2="328.20" y2="120.79" stroke="#000" stroke-width="1.1"/>
<line x1="37.30" y1="116.98" x2="40.10" y2="116.98" stroke="#000" stroke-width="1.1"/>
<line x1="331.00" y1="116.98" x2="328.20" y2="116.98" stroke="#000" stroke-width="1.1"/>
<line x1="37.30" y1="113.76" x2="40.10" y2="113.76" stroke="#000" stroke-width="1.1"/>
<line x1="331.00" y1="113.76" x2="328.20" y2="113.76" stroke="#000" stroke-width="1.1"/>
<line x1="37.30" y1="110.97" x2="40.10" y2="110.97" stroke="#000" stroke-width="1.1"/>
<line x1="331.00" y1="110.97" x2="328.20" y2="110.97" stroke="#000" stroke-width="1.1"/>
<line x1="37.30" y1="108.50" x2="40.10" y2="108.50" stroke="#000" stroke-width="1.1"/>
<line x1="331.00" y1="108.50" x2="328.20" y2="108.50" stroke="#000" stroke-width="1.1"/>
<line x1="37.30" y1="202.60" x2="42.80" y2="202.60" stroke="#000" stroke-width="1.1"/>
<line x1="331.00" y1="202.60" x2="325.50" y2="202.60" stroke="#000" stroke-width="1.1"/>
<line x1="37.30" y1="188.11" x2="40.10" y2="188.11" stroke="#000" stroke-width="1.1"/>
<line x1="331.00" y1="188.11" x2="328.20" y2="188.11" stroke="#000" stroke-width="1.1"/>
<line x1="37.30" y1="179.63" x2="40.10" y2="179.63" stroke="#000" stroke-width="1.1"/>
<line x1="331.00" y1="179.63" x2="328.20" y2="179.63" stroke="#000" stroke-width="1.1"/>
<line x1="37.30" y1="173.61" x2="40.10" y2="173.61" stroke="#000" stroke-width="1.1"/>
<line x1="331.00" y1="173.61" x2="328.20" y2="173.61" stroke="#000" stroke-width="1.1"/>
<line x1="37.30" y1="168.94" x2="40.10" y2="168.94" stroke="#000" stroke-width="1.1"/>
<line x1="331.00" y1="168.94" x2="328.20" y2="168.94" stroke="#000" stroke-width="1.1"/>
<line x1="37.30" y1="165.13" x2="40.10" y2="165.13" stroke="#000" stroke-width="1.1"/>
<line x1="331.00" y1="165.13" x2="328.20" y2="165.13" stroke="#000" stroke-width="1.1"/>
<line x1="37.30" y1="161.91" x2="40.10" y2="161.91" stroke="#000" stroke-width="1.1"/>
<line x1="331.00" y1="161.91" x2="328.20" y2="161.91" stroke="#000" stroke-width="1.1"/>
<line x1="37.30" y1="159.12" x2="40.10" y2="159.12" stroke="#000" stroke-width="1.1"/>
<line x1="331.00" y1="159.12" x2="328.20" y2="159.12" stroke="#000" stroke-width="1.1"/>
<line x1="37.30" y1="156.65" x2="40.10" y2="156.65" stroke="#000" stroke-width="1.1"/>
<line x1="331.00" y1="156.65" x2="328.20" y2="156.65" stroke="#000" stroke-width="1.1"/>
<line x1="37.30" y1="210.06" x2="40.10" y2="210.06" stroke="#000" stroke-width="1.1"/>
<line x1="331.00" y1="210.06" x2="328.20" y2="210.06" stroke="#000" stroke-width="1.1"/>
<line x1="37.30" y1="207.27" x2="40.10" y2="207.27" stroke="#000" stroke-width="1.1"/>
<line x1="331.00" y1="207.27" x2="328.20" y2="207.27" stroke="#000" stroke-width="1.1"/>
<line x1="37.30" y1="204.80" x2="40.10" y2="204.80" stroke="#000" stroke-width="1.1"/>
<line x1="331.00" y1="204.80" x2="328.20" y2="204.80" stroke="#000" stroke-width="1.1"/>
<text x="29.30" y="10.00" font-size="13" font-family="Liberation Sans, sans-serif" font-weight="bold" text-anchor="middle" transform="rotate(-90 29.30 10.00)">1</text>
<text x="29.30" y="58.15" font-size="13" font-family="Liberation Sans, sans-serif" font-weight="bold" text-anchor="middle" transform="rotate(-90 29.30 58.15)">0.1</text>
<text x="29.30" y="106.30" font-size="13" font-family="Liberation Sans, sans-serif" font-weight="bold" text-anchor="middle" transform="rotate(-90 29.30 106.30)">0.01</text>
<text x="29.30" y="154.45" font-size="13" font-family="Liberation Sans, sans-serif" font-weight="bold" text-anchor="middle" transform="rotate(-90 29.30 154.45)">10<tspan dx="0.5" dy="-5.9" font-size="9.6">&#8722;3</tspan></text>
<text x="29.30" y="202.60" font-size="13" font-family="Liberation Sans, sans-serif" font-weight="bold" text-anchor="middle" transform="rotate(-90 29.30 202.60)">10<tspan dx="0.5" dy="-5.9" font-size="9.6">&#8722;4</tspan></text>
<text x="10.00" y="106.20" font-size="14" font-family="Liberation Serif, sans-serif" font-weight="bold" text-anchor="middle" transform="rotate(-90 10.00 106.20)">q</text>
<text x="185" y="252.5" font-size="14" font-family="Liberation Serif, serif" font-weight="bold" text-anchor="middle">s (R<tspan dy="3.5" font-size="9.5">E</tspan><tspan dy="-3.5">)</tspan></text>
<rect x="331.70" y="0.80" width="20.70" height="211.10" fill="url(#cb)"/>
<rect x="331.70" y="0.80" width="20.70" height="211.10" fill="none" stroke="#000" stroke-width="1.2"/>
<line x1="331.70" y1="35.20" x2="336.20" y2="35.20" stroke="#000" stroke-width="1.0"/>
<line x1="352.40" y1="35.20" x2="347.90" y2="35.20" stroke="#000" stroke-width="1.0"/>
<line x1="331.70" y1="116.40" x2="336.20" y2="116.40" stroke="#000" stroke-width="1.0"/>
<line x1="352.40" y1="116.40" x2="347.90" y2="116.40" stroke="#000" stroke-width="1.0"/>
<line x1="331.70" y1="197.50" x2="336.20" y2="197.50" stroke="#000" stroke-width="1.0"/>
<line x1="352.40" y1="197.50" x2="347.90" y2="197.50" stroke="#000" stroke-width="1.0"/>
<line x1="331.70" y1="2.76" x2="334.00" y2="2.76" stroke="#000" stroke-width="0.9"/>
<line x1="352.40" y1="2.76" x2="350.10" y2="2.76" stroke="#000" stroke-width="0.9"/>
<line x1="331.70" y1="18.98" x2="334.00" y2="18.98" stroke="#000" stroke-width="0.9"/>
<line x1="352.40" y1="18.98" x2="350.10" y2="18.98" stroke="#000" stroke-width="0.9"/>
<line x1="331.70" y1="51.42" x2="334.00" y2="51.42" stroke="#000" stroke-width="0.9"/>
<line x1="352.40" y1="51.42" x2="350.10" y2="51.42" stroke="#000" stroke-width="0.9"/>
<line x1="331.70" y1="67.64" x2="334.00" y2="67.64" stroke="#000" stroke-width="0.9"/>
<line x1="352.40" y1="67.64" x2="350.10" y2="67.64" stroke="#000" stroke-width="0.9"/>
<line x1="331.70" y1="83.86" x2="334.00" y2="83.86" stroke="#000" stroke-width="0.9"/>
<line x1="352.40" y1="83.86" x2="350.10" y2="83.86" stroke="#000" stroke-width="0.9"/>
<line x1="331.70" y1="100.08" x2="334.00" y2="100.08" stroke="#000" stroke-width="0.9"/>
<line x1="352.40" y1="100.08" x2="350.10" y2="100.08" stroke="#000" stroke-width="0.9"/>
<line x1="331.70" y1="132.52" x2="334.00" y2="132.52" stroke="#000" stroke-width="0.9"/>
<line x1="352.40" y1="132.52" x2="350.10" y2="132.52" stroke="#000" stroke-width="0.9"/>
<line x1="331.70" y1="148.74" x2="334.00" y2="148.74" stroke="#000" stroke-width="0.9"/>
<line x1="352.40" y1="148.74" x2="350.10" y2="148.74" stroke="#000" stroke-width="0.9"/>
<line x1="331.70" y1="164.96" x2="334.00" y2="164.96" stroke="#000" stroke-width="0.9"/>
<line x1="352.40" y1="164.96" x2="350.10" y2="164.96" stroke="#000" stroke-width="0.9"/>
<line x1="331.70" y1="181.18" x2="334.00" y2="181.18" stroke="#000" stroke-width="0.9"/>
<line x1="352.40" y1="181.18" x2="350.10" y2="181.18" stroke="#000" stroke-width="0.9"/>
<text x="364.00" y="197.50" font-size="10.5" font-family="Liberation Sans, sans-serif" font-weight="bold" text-anchor="middle" transform="rotate(-90 364.00 197.50)">8000</text>
<text x="364.00" y="116.40" font-size="10.5" font-family="Liberation Sans, sans-serif" font-weight="bold" text-anchor="middle" transform="rotate(-90 364.00 116.40)">9000</text>
<text x="364.00" y="35.20" font-size="10.5" font-family="Liberation Sans, sans-serif" font-weight="bold" text-anchor="middle" transform="rotate(-90 364.00 35.20)">10<tspan dx="0.5" dy="-4.7" font-size="7.8">4</tspan></text>
<text x="373.00" y="12.00" font-size="11.5" font-family="Liberation Serif, serif" font-weight="bold" text-anchor="middle" transform="rotate(-90 373.00 12.00)">&#967;</text>
<text x="368.00" y="2.70" font-size="7.5" font-family="Liberation Sans, sans-serif" font-weight="bold" text-anchor="middle" transform="rotate(-90 368.00 2.70)">2</text>
<circle cx="165.4" cy="192.0" r="4.9" fill="#000"/>
<line x1="415.10" y1="0.00" x2="415.10" y2="212.60" stroke="#000" stroke-width="1.5"/>
<line x1="708.80" y1="0.00" x2="708.80" y2="212.60" stroke="#000" stroke-width="1.5"/>
<line x1="414.40" y1="0.80" x2="709.50" y2="0.80" stroke="#000" stroke-width="1.5"/>
<line x1="414.40" y1="211.90" x2="709.50" y2="211.90" stroke="#000" stroke-width="1.5"/>
<line x1="421.52" y1="211.90" x2="421.52" y2="209.10" stroke="#000" stroke-width="1.1"/>
<line x1="421.52" y1="0.80" x2="421.52" y2="3.60" stroke="#000" stroke-width="1.1"/>
<line x1="453.63" y1="211.90" x2="453.63" y2="209.10" stroke="#000" stroke-width="1.1"/>
<line x1="453.63" y1="0.80" x2="453.63" y2="3.60" stroke="#000" stroke-width="1.1"/>
<line x1="478.54" y1="211.90" x2="478.54" y2="209.10" stroke="#000" stroke-width="1.1"/>
<line x1="478.54" y1="0.80" x2="478.54" y2="3.60" stroke="#000" stroke-width="1.1"/>
<line x1="498.88" y1="211.90" x2="498.88" y2="209.10" stroke="#000" stroke-width="1.1"/>
<line x1="498.88" y1="0.80" x2="498.88" y2="3.60" stroke="#000" stroke-width="1.1"/>
<line x1="516.09" y1="211.90" x2="516.09" y2="209.10" stroke="#000" stroke-width="1.1"/>
<line x1="516.09" y1="0.80" x2="516.09" y2="3.60" stroke="#000" stroke-width="1.1"/>
<line x1="530.99" y1="211.90" x2="530.99" y2="209.10" stroke="#000" stroke-width="1.1"/>
<line x1="530.99" y1="0.80" x2="530.99" y2="3.60" stroke="#000" stroke-width="1.1"/>
<line x1="544.14" y1="211.90" x2="544.14" y2="209.10" stroke="#000" stroke-width="1.1"/>
<line x1="544.14" y1="0.80" x2="544.14" y2="3.60" stroke="#000" stroke-width="1.1"/>
<line x1="555.90" y1="211.90" x2="555.90" y2="206.40" stroke="#000" stroke-width="1.1"/>
<line x1="555.90" y1="0.80" x2="555.90" y2="6.30" stroke="#000" stroke-width="1.1"/>
<line x1="633.26" y1="211.90" x2="633.26" y2="209.10" stroke="#000" stroke-width="1.1"/>
<line x1="633.26" y1="0.80" x2="633.26" y2="3.60" stroke="#000" stroke-width="1.1"/>
<line x1="678.52" y1="211.90" x2="678.52" y2="209.10" stroke="#000" stroke-width="1.1"/>
<line x1="678.52" y1="0.80" x2="678.52" y2="3.60" stroke="#000" stroke-width="1.1"/>
<text x="478.54" y="227.90" font-size="13" font-family="Liberation Sans, sans-serif" font-weight="bold" text-anchor="middle">0.5</text>
<text x="555.90" y="227.90" font-size="13" font-family="Liberation Sans, sans-serif" font-weight="bold" text-anchor="middle">1</text>
<text x="633.26" y="227.90" font-size="13" font-family="Liberation Sans, sans-serif" font-weight="bold" text-anchor="middle">2</text>
<line x1="415.10" y1="208.40" x2="420.60" y2="208.40" stroke="#000" stroke-width="1.1"/>
<line x1="708.80" y1="208.40" x2="703.30" y2="208.40" stroke="#000" stroke-width="1.1"/>
<text x="407.10" y="208.40" font-size="13" font-family="Liberation Sans, sans-serif" font-weight="bold" text-anchor="middle" transform="rotate(-90 407.10 208.40)">0</text>
<line x1="415.10" y1="174.87" x2="417.90" y2="174.87" stroke="#000" stroke-width="1.1"/>
<line x1="708.80" y1="174.87" x2="706.00" y2="174.87" stroke="#000" stroke-width="1.1"/>
<line x1="415.10" y1="141.34" x2="420.60" y2="141.34" stroke="#000" stroke-width="1.1"/>
<line x1="708.80" y1="141.34" x2="703.30" y2="141.34" stroke="#000" stroke-width="1.1"/>
<text x="407.10" y="141.34" font-size="13" font-family="Liberation Sans, sans-serif" font-weight="bold" text-anchor="middle" transform="rotate(-90 407.10 141.34)">2</text>
<line x1="415.10" y1="107.81" x2="417.90" y2="107.81" stroke="#000" stroke-width="1.1"/>
<line x1="708.80" y1="107.81" x2="706.00" y2="107.81" stroke="#000" stroke-width="1.1"/>
<line x1="415.10" y1="74.28" x2="420.60" y2="74.28" stroke="#000" stroke-width="1.1"/>
<line x1="708.80" y1="74.28" x2="703.30" y2="74.28" stroke="#000" stroke-width="1.1"/>
<text x="407.10" y="74.28" font-size="13" font-family="Liberation Sans, sans-serif" font-weight="bold" text-anchor="middle" transform="rotate(-90 407.10 74.28)">4</text>
<line x1="415.10" y1="40.75" x2="417.90" y2="40.75" stroke="#000" stroke-width="1.1"/>
<line x1="708.80" y1="40.75" x2="706.00" y2="40.75" stroke="#000" stroke-width="1.1"/>
<line x1="415.10" y1="7.22" x2="420.60" y2="7.22" stroke="#000" stroke-width="1.1"/>
<line x1="708.80" y1="7.22" x2="703.30" y2="7.22" stroke="#000" stroke-width="1.1"/>
<text x="407.10" y="7.22" font-size="13" font-family="Liberation Sans, sans-serif" font-weight="bold" text-anchor="middle" transform="rotate(-90 407.10 7.22)">6</text>
<text x="388.10" y="106.70" font-size="14.5" font-family="Liberation Serif, sans-serif" font-weight="bold" text-anchor="middle" transform="rotate(-90 388.10 106.70)" font-style="italic">&#952;</text>
<text x="562.8" y="252.5" font-size="14" font-family="Liberation Serif, serif" font-weight="bold" text-anchor="middle">s (R<tspan dy="3.5" font-size="9.5">E</tspan><tspan dy="-3.5">)</tspan></text>
<rect x="709.50" y="0.80" width="20.70" height="211.10" fill="url(#cb)"/>
<rect x="709.50" y="0.80" width="20.70" height="211.10" fill="none" stroke="#000" stroke-width="1.2"/>
<line x1="709.50" y1="46.70" x2="714.00" y2="46.70" stroke="#000" stroke-width="1.0"/>
<line x1="730.20" y1="46.70" x2="725.70" y2="46.70" stroke="#000" stroke-width="1.0"/>
<line x1="709.50" y1="116.90" x2="714.00" y2="116.90" stroke="#000" stroke-width="1.0"/>
<line x1="730.20" y1="116.90" x2="725.70" y2="116.90" stroke="#000" stroke-width="1.0"/>
<line x1="709.50" y1="187.00" x2="714.00" y2="187.00" stroke="#000" stroke-width="1.0"/>
<line x1="730.20" y1="187.00" x2="725.70" y2="187.00" stroke="#000" stroke-width="1.0"/>
<line x1="709.50" y1="4.61" x2="711.80" y2="4.61" stroke="#000" stroke-width="0.9"/>
<line x1="730.20" y1="4.61" x2="727.90" y2="4.61" stroke="#000" stroke-width="0.9"/>
<line x1="709.50" y1="18.64" x2="711.80" y2="18.64" stroke="#000" stroke-width="0.9"/>
<line x1="730.20" y1="18.64" x2="727.90" y2="18.64" stroke="#000" stroke-width="0.9"/>
<line x1="709.50" y1="32.67" x2="711.80" y2="32.67" stroke="#000" stroke-width="0.9"/>
<line x1="730.20" y1="32.67" x2="727.90" y2="32.67" stroke="#000" stroke-width="0.9"/>
<line x1="709.50" y1="60.73" x2="711.80" y2="60.73" stroke="#000" stroke-width="0.9"/>
<line x1="730.20" y1="60.73" x2="727.90" y2="60.73" stroke="#000" stroke-width="0.9"/>
<line x1="709.50" y1="74.76" x2="711.80" y2="74.76" stroke="#000" stroke-width="0.9"/>
<line x1="730.20" y1="74.76" x2="727.90" y2="74.76" stroke="#000" stroke-width="0.9"/>
<line x1="709.50" y1="88.79" x2="711.80" y2="88.79" stroke="#000" stroke-width="0.9"/>
<line x1="730.20" y1="88.79" x2="727.90" y2="88.79" stroke="#000" stroke-width="0.9"/>
<line x1="709.50" y1="102.82" x2="711.80" y2="102.82" stroke="#000" stroke-width="0.9"/>
<line x1="730.20" y1="102.82" x2="727.90" y2="102.82" stroke="#000" stroke-width="0.9"/>
<line x1="709.50" y1="130.88" x2="711.80" y2="130.88" stroke="#000" stroke-width="0.9"/>
<line x1="730.20" y1="130.88" x2="727.90" y2="130.88" stroke="#000" stroke-width="0.9"/>
<line x1="709.50" y1="144.91" x2="711.80" y2="144.91" stroke="#000" stroke-width="0.9"/>
<line x1="730.20" y1="144.91" x2="727.90" y2="144.91" stroke="#000" stroke-width="0.9"/>
<line x1="709.50" y1="158.94" x2="711.80" y2="158.94" stroke="#000" stroke-width="0.9"/>
<line x1="730.20" y1="158.94" x2="727.90" y2="158.94" stroke="#000" stroke-width="0.9"/>
<line x1="709.50" y1="172.97" x2="711.80" y2="172.97" stroke="#000" stroke-width="0.9"/>
<line x1="730.20" y1="172.97" x2="727.90" y2="172.97" stroke="#000" stroke-width="0.9"/>
<line x1="709.50" y1="201.03" x2="711.80" y2="201.03" stroke="#000" stroke-width="0.9"/>
<line x1="730.20" y1="201.03" x2="727.90" y2="201.03" stroke="#000" stroke-width="0.9"/>
<text x="741.80" y="187.00" font-size="10.5" font-family="Liberation Sans, sans-serif" font-weight="bold" text-anchor="middle" transform="rotate(-90 741.80 187.00)">8000</text>
<text x="741.80" y="116.90" font-size="10.5" font-family="Liberation Sans, sans-serif" font-weight="bold" text-anchor="middle" transform="rotate(-90 741.80 116.90)">8500</text>
<text x="741.80" y="46.70" font-size="10.5" font-family="Liberation Sans, sans-serif" font-weight="bold" text-anchor="middle" transform="rotate(-90 741.80 46.70)">9000</text>
<text x="750.80" y="12.00" font-size="11.5" font-family="Liberation Serif, serif" font-weight="bold" text-anchor="middle" transform="rotate(-90 750.80 12.00)">&#967;</text>
<text x="745.80" y="2.70" font-size="7.5" font-family="Liberation Sans, sans-serif" font-weight="bold" text-anchor="middle" transform="rotate(-90 745.80 2.70)">2</text>
<circle cx="543.6" cy="38.7" r="4.9" fill="#000"/>
<line x1="37.30" y1="281.00" x2="37.30" y2="492.80" stroke="#1a0a00" stroke-width="1.2"/>
<line x1="36.70" y1="281.60" x2="331.60" y2="281.60" stroke="#1a0a00" stroke-width="1.2"/>
<line x1="36.70" y1="492.20" x2="331.60" y2="492.20" stroke="#1a0a00" stroke-width="1.2"/>
<line x1="38.03" y1="492.20" x2="38.03" y2="489.40" stroke="#1a0a00" stroke-width="1.0"/>
<line x1="38.03" y1="281.60" x2="38.03" y2="284.40" stroke="#1a0a00" stroke-width="1.0"/>
<line x1="41.95" y1="492.20" x2="41.95" y2="489.40" stroke="#1a0a00" stroke-width="1.0"/>
<line x1="41.95" y1="281.60" x2="41.95" y2="284.40" stroke="#1a0a00" stroke-width="1.0"/>
<line x1="45.41" y1="492.20" x2="45.41" y2="489.40" stroke="#1a0a00" stroke-width="1.0"/>
<line x1="45.41" y1="281.60" x2="45.41" y2="284.40" stroke="#1a0a00" stroke-width="1.0"/>
<line x1="48.50" y1="492.20" x2="48.50" y2="486.70" stroke="#1a0a00" stroke-width="1.0"/>
<line x1="48.50" y1="281.60" x2="48.50" y2="287.10" stroke="#1a0a00" stroke-width="1.0"/>
<line x1="68.85" y1="492.20" x2="68.85" y2="489.40" stroke="#1a0a00" stroke-width="1.0"/>
<line x1="68.85" y1="281.60" x2="68.85" y2="284.40" stroke="#1a0a00" stroke-width="1.0"/>
<line x1="80.75" y1="492.20" x2="80.75" y2="489.40" stroke="#1a0a00" stroke-width="1.0"/>
<line x1="80.75" y1="281.60" x2="80.75" y2="284.40" stroke="#1a0a00" stroke-width="1.0"/>
<line x1="89.20" y1="492.20" x2="89.20" y2="489.40" stroke="#1a0a00" stroke-width="1.0"/>
<line x1="89.20" y1="281.60" x2="89.20" y2="284.40" stroke="#1a0a00" stroke-width="1.0"/>
<line x1="95.75" y1="492.20" x2="95.75" y2="489.40" stroke="#1a0a00" stroke-width="1.0"/>
<line x1="95.75" y1="281.60" x2="95.75" y2="284.40" stroke="#1a0a00" stroke-width="1.0"/>
<line x1="101.10" y1="492.20" x2="101.10" y2="489.40" stroke="#1a0a00" stroke-width="1.0"/>
<line x1="101.10" y1="281.60" x2="101.10" y2="284.40" stroke="#1a0a00" stroke-width="1.0"/>
<line x1="105.63" y1="492.20" x2="105.63" y2="489.40" stroke="#1a0a00" stroke-width="1.0"/>
<line x1="105.63" y1="281.60" x2="105.63" y2="284.40" stroke="#1a0a00" stroke-width="1.0"/>
<line x1="109.55" y1="492.20" x2="109.55" y2="489.40" stroke="#1a0a00" stroke-width="1.0"/>
<line x1="109.55" y1="281.60" x2="109.55" y2="284.40" stroke="#1a0a00" stroke-width="1.0"/>
<line x1="113.01" y1="492.20" x2="113.01" y2="489.40" stroke="#1a0a00" stroke-width="1.0"/>
<line x1="113.01" y1="281.60" x2="113.01" y2="284.40" stroke="#1a0a00" stroke-width="1.0"/>
<line x1="116.10" y1="492.20" x2="116.10" y2="486.70" stroke="#1a0a00" stroke-width="1.0"/>
<line x1="116.10" y1="281.60" x2="116.10" y2="287.10" stroke="#1a0a00" stroke-width="1.0"/>
<line x1="136.45" y1="492.20" x2="136.45" y2="489.40" stroke="#1a0a00" stroke-width="1.0"/>
<line x1="136.45" y1="281.60" x2="136.45" y2="284.40" stroke="#1a0a00" stroke-width="1.0"/>
<line x1="148.35" y1="492.20" x2="148.35" y2="489.40" stroke="#1a0a00" stroke-width="1.0"/>
<line x1="148.35" y1="281.60" x2="148.35" y2="284.40" stroke="#1a0a00" stroke-width="1.0"/>
<line x1="156.80" y1="492.20" x2="156.80" y2="489.40" stroke="#1a0a00" stroke-width="1.0"/>
<line x1="156.80" y1="281.60" x2="156.80" y2="284.40" stroke="#1a0a00" stroke-width="1.0"/>
<line x1="163.35" y1="492.20" x2="163.35" y2="489.40" stroke="#1a0a00" stroke-width="1.0"/>
<line x1="163.35" y1="281.60" x2="163.35" y2="284.40" stroke="#1a0a00" stroke-width="1.0"/>
<line x1="168.70" y1="492.20" x2="168.70" y2="489.40" stroke="#1a0a00" stroke-width="1.0"/>
<line x1="168.70" y1="281.60" x2="168.70" y2="284.40" stroke="#1a0a00" stroke-width="1.0"/>
<line x1="173.23" y1="492.20" x2="173.23" y2="489.40" stroke="#1a0a00" stroke-width="1.0"/>
<line x1="173.23" y1="281.60" x2="173.23" y2="284.40" stroke="#1a0a00" stroke-width="1.0"/>
<line x1="177.15" y1="492.20" x2="177.15" y2="489.40" stroke="#1a0a00" stroke-width="1.0"/>
<line x1="177.15" y1="281.60" x2="177.15" y2="284.40" stroke="#1a0a00" stroke-width="1.0"/>
<line x1="180.61" y1="492.20" x2="180.61" y2="489.40" stroke="#1a0a00" stroke-width="1.0"/>
<line x1="180.61" y1="281.60" x2="180.61" y2="284.40" stroke="#1a0a00" stroke-width="1.0"/>
<line x1="183.70" y1="492.20" x2="183.70" y2="486.70" stroke="#1a0a00" stroke-width="1.0"/>
<line x1="183.70" y1="281.60" x2="183.70" y2="287.10" stroke="#1a0a00" stroke-width="1.0"/>
<line x1="204.05" y1="492.20" x2="204.05" y2="489.40" stroke="#1a0a00" stroke-width="1.0"/>
<line x1="204.05" y1="281.60" x2="204.05" y2="284.40" stroke="#1a0a00" stroke-width="1.0"/>
<line x1="215.95" y1="492.20" x2="215.95" y2="489.40" stroke="#1a0a00" stroke-width="1.0"/>
<line x1="215.95" y1="281.60" x2="215.95" y2="284.40" stroke="#1a0a00" stroke-width="1.0"/>
<line x1="224.40" y1="492.20" x2="224.40" y2="489.40" stroke="#1a0a00" stroke-width="1.0"/>
<line x1="224.40" y1="281.60" x2="224.40" y2="284.40" stroke="#1a0a00" stroke-width="1.0"/>
<line x1="230.95" y1="492.20" x2="230.95" y2="489.40" stroke="#1a0a00" stroke-width="1.0"/>
<line x1="230.95" y1="281.60" x2="230.95" y2="284.40" stroke="#1a0a00" stroke-width="1.0"/>
<line x1="236.30" y1="492.20" x2="236.30" y2="489.40" stroke="#1a0a00" stroke-width="1.0"/>
<line x1="236.30" y1="281.60" x2="236.30" y2="284.40" stroke="#1a0a00" stroke-width="1.0"/>
<line x1="240.83" y1="492.20" x2="240.83" y2="489.40" stroke="#1a0a00" stroke-width="1.0"/>
<line x1="240.83" y1="281.60" x2="240.83" y2="284.40" stroke="#1a0a00" stroke-width="1.0"/>
<line x1="244.75" y1="492.20" x2="244.75" y2="489.40" stroke="#1a0a00" stroke-width="1.0"/>
<line x1="244.75" y1="281.60" x2="244.75" y2="284.40" stroke="#1a0a00" stroke-width="1.0"/>
<line x1="248.21" y1="492.20" x2="248.21" y2="489.40" stroke="#1a0a00" stroke-width="1.0"/>
<line x1="248.21" y1="281.60" x2="248.21" y2="284.40" stroke="#1a0a00" stroke-width="1.0"/>
<line x1="251.30" y1="492.20" x2="251.30" y2="486.70" stroke="#1a0a00" stroke-width="1.0"/>
<line x1="251.30" y1="281.60" x2="251.30" y2="287.10" stroke="#1a0a00" stroke-width="1.0"/>
<line x1="271.65" y1="492.20" x2="271.65" y2="489.40" stroke="#1a0a00" stroke-width="1.0"/>
<line x1="271.65" y1="281.60" x2="271.65" y2="284.40" stroke="#1a0a00" stroke-width="1.0"/>
<line x1="283.55" y1="492.20" x2="283.55" y2="489.40" stroke="#1a0a00" stroke-width="1.0"/>
<line x1="283.55" y1="281.60" x2="283.55" y2="284.40" stroke="#1a0a00" stroke-width="1.0"/>
<line x1="292.00" y1="492.20" x2="292.00" y2="489.40" stroke="#1a0a00" stroke-width="1.0"/>
<line x1="292.00" y1="281.60" x2="292.00" y2="284.40" stroke="#1a0a00" stroke-width="1.0"/>
<line x1="298.55" y1="492.20" x2="298.55" y2="489.40" stroke="#1a0a00" stroke-width="1.0"/>
<line x1="298.55" y1="281.60" x2="298.55" y2="284.40" stroke="#1a0a00" stroke-width="1.0"/>
<line x1="303.90" y1="492.20" x2="303.90" y2="489.40" stroke="#1a0a00" stroke-width="1.0"/>
<line x1="303.90" y1="281.60" x2="303.90" y2="284.40" stroke="#1a0a00" stroke-width="1.0"/>
<line x1="308.43" y1="492.20" x2="308.43" y2="489.40" stroke="#1a0a00" stroke-width="1.0"/>
<line x1="308.43" y1="281.60" x2="308.43" y2="284.40" stroke="#1a0a00" stroke-width="1.0"/>
<line x1="312.35" y1="492.20" x2="312.35" y2="489.40" stroke="#1a0a00" stroke-width="1.0"/>
<line x1="312.35" y1="281.60" x2="312.35" y2="284.40" stroke="#1a0a00" stroke-width="1.0"/>
<line x1="315.81" y1="492.20" x2="315.81" y2="489.40" stroke="#1a0a00" stroke-width="1.0"/>
<line x1="315.81" y1="281.60" x2="315.81" y2="284.40" stroke="#1a0a00" stroke-width="1.0"/>
<line x1="318.90" y1="492.20" x2="318.90" y2="486.70" stroke="#1a0a00" stroke-width="1.0"/>
<line x1="318.90" y1="281.60" x2="318.90" y2="287.10" stroke="#1a0a00" stroke-width="1.0"/>
<line x1="37.30" y1="489.30" x2="42.80" y2="489.30" stroke="#1a0a00" stroke-width="1.0"/>
<line x1="331.70" y1="489.30" x2="326.20" y2="489.30" stroke="#1a0a00" stroke-width="1.0"/>
<text x="29.30" y="489.30" font-size="13" font-family="Liberation Sans, sans-serif" font-weight="bold" text-anchor="middle" transform="rotate(-90 29.30 489.30)">0</text>
<line x1="37.30" y1="455.77" x2="40.10" y2="455.77" stroke="#1a0a00" stroke-width="1.0"/>
<line x1="331.70" y1="455.77" x2="328.90" y2="455.77" stroke="#1a0a00" stroke-width="1.0"/>
<line x1="37.30" y1="422.24" x2="42.80" y2="422.24" stroke="#1a0a00" stroke-width="1.0"/>
<line x1="331.70" y1="422.24" x2="326.20" y2="422.24" stroke="#1a0a00" stroke-width="1.0"/>
<text x="29.30" y="422.24" font-size="13" font-family="Liberation Sans, sans-serif" font-weight="bold" text-anchor="middle" transform="rotate(-90 29.30 422.24)">2</text>
<line x1="37.30" y1="388.71" x2="40.10" y2="388.71" stroke="#1a0a00" stroke-width="1.0"/>
<line x1="331.70" y1="388.71" x2="328.90" y2="388.71" stroke="#1a0a00" stroke-width="1.0"/>
<line x1="37.30" y1="355.18" x2="42.80" y2="355.18" stroke="#1a0a00" stroke-width="1.0"/>
<line x1="331.70" y1="355.18" x2="326.20" y2="355.18" stroke="#1a0a00" stroke-width="1.0"/>
<text x="29.30" y="355.18" font-size="13" font-family="Liberation Sans, sans-serif" font-weight="bold" text-anchor="middle" transform="rotate(-90 29.30 355.18)">4</text>
<line x1="37.30" y1="321.65" x2="40.10" y2="321.65" stroke="#1a0a00" stroke-width="1.0"/>
<line x1="331.70" y1="321.65" x2="328.90" y2="321.65" stroke="#1a0a00" stroke-width="1.0"/>
<line x1="37.30" y1="288.12" x2="42.80" y2="288.12" stroke="#1a0a00" stroke-width="1.0"/>
<line x1="331.70" y1="288.12" x2="326.20" y2="288.12" stroke="#1a0a00" stroke-width="1.0"/>
<text x="29.30" y="288.12" font-size="13" font-family="Liberation Sans, sans-serif" font-weight="bold" text-anchor="middle" transform="rotate(-90 29.30 288.12)">6</text>
<text x="10.30" y="387.60" font-size="14.5" font-family="Liberation Serif, sans-serif" font-weight="bold" text-anchor="middle" transform="rotate(-90 10.30 387.60)" font-style="italic">&#952;</text>
<text x="50.60" y="508.50" font-size="13" font-family="Liberation Sans, sans-serif" font-weight="bold" text-anchor="middle">10<tspan dx="0.5" dy="-5.9" font-size="9.6">&#8722;4</tspan></text>
<text x="118.70" y="508.50" font-size="13" font-family="Liberation Sans, sans-serif" font-weight="bold" text-anchor="middle">10<tspan dx="0.5" dy="-5.9" font-size="9.6">&#8722;3</tspan></text>
<text x="183.70" y="508.50" font-size="13" font-family="Liberation Sans, sans-serif" font-weight="bold" text-anchor="middle">0.01</text>
<text x="251.30" y="508.50" font-size="13" font-family="Liberation Sans, sans-serif" font-weight="bold" text-anchor="middle">0.1</text>
<text x="319.30" y="508.50" font-size="13" font-family="Liberation Sans, sans-serif" font-weight="bold" text-anchor="middle">1</text>
<text x="185.00" y="532.50" font-size="14" font-family="Liberation Serif, sans-serif" font-weight="bold" text-anchor="middle">q</text>
<rect x="331.70" y="281.60" width="20.70" height="210.60" fill="url(#cb)"/>
<rect x="331.70" y="281.60" width="20.70" height="210.60" fill="none" stroke="#000" stroke-width="1.2"/>
<line x1="331.70" y1="315.00" x2="336.20" y2="315.00" stroke="#000" stroke-width="1.0"/>
<line x1="352.40" y1="315.00" x2="347.90" y2="315.00" stroke="#000" stroke-width="1.0"/>
<line x1="331.70" y1="370.60" x2="336.20" y2="370.60" stroke="#000" stroke-width="1.0"/>
<line x1="352.40" y1="370.60" x2="347.90" y2="370.60" stroke="#000" stroke-width="1.0"/>
<line x1="331.70" y1="426.20" x2="336.20" y2="426.20" stroke="#000" stroke-width="1.0"/>
<line x1="352.40" y1="426.20" x2="347.90" y2="426.20" stroke="#000" stroke-width="1.0"/>
<line x1="331.70" y1="481.80" x2="336.20" y2="481.80" stroke="#000" stroke-width="1.0"/>
<line x1="352.40" y1="481.80" x2="347.90" y2="481.80" stroke="#000" stroke-width="1.0"/>
<line x1="331.70" y1="281.64" x2="334.00" y2="281.64" stroke="#000" stroke-width="0.9"/>
<line x1="352.40" y1="281.64" x2="350.10" y2="281.64" stroke="#000" stroke-width="0.9"/>
<line x1="331.70" y1="292.76" x2="334.00" y2="292.76" stroke="#000" stroke-width="0.9"/>
<line x1="352.40" y1="292.76" x2="350.10" y2="292.76" stroke="#000" stroke-width="0.9"/>
<line x1="331.70" y1="303.88" x2="334.00" y2="303.88" stroke="#000" stroke-width="0.9"/>
<line x1="352.40" y1="303.88" x2="350.10" y2="303.88" stroke="#000" stroke-width="0.9"/>
<line x1="331.70" y1="326.12" x2="334.00" y2="326.12" stroke="#000" stroke-width="0.9"/>
<line x1="352.40" y1="326.12" x2="350.10" y2="326.12" stroke="#000" stroke-width="0.9"/>
<line x1="331.70" y1="337.24" x2="334.00" y2="337.24" stroke="#000" stroke-width="0.9"/>
<line x1="352.40" y1="337.24" x2="350.10" y2="337.24" stroke="#000" stroke-width="0.9"/>
<line x1="331.70" y1="348.36" x2="334.00" y2="348.36" stroke="#000" stroke-width="0.9"/>
<line x1="352.40" y1="348.36" x2="350.10" y2="348.36" stroke="#000" stroke-width="0.9"/>
<line x1="331.70" y1="359.48" x2="334.00" y2="359.48" stroke="#000" stroke-width="0.9"/>
<line x1="352.40" y1="359.48" x2="350.10" y2="359.48" stroke="#000" stroke-width="0.9"/>
<line x1="331.70" y1="381.72" x2="334.00" y2="381.72" stroke="#000" stroke-width="0.9"/>
<line x1="352.40" y1="381.72" x2="350.10" y2="381.72" stroke="#000" stroke-width="0.9"/>
<line x1="331.70" y1="392.84" x2="334.00" y2="392.84" stroke="#000" stroke-width="0.9"/>
<line x1="352.40" y1="392.84" x2="350.10" y2="392.84" stroke="#000" stroke-width="0.9"/>
<line x1="331.70" y1="403.96" x2="334.00" y2="403.96" stroke="#000" stroke-width="0.9"/>
<line x1="352.40" y1="403.96" x2="350.10" y2="403.96" stroke="#000" stroke-width="0.9"/>
<line x1="331.70" y1="415.08" x2="334.00" y2="415.08" stroke="#000" stroke-width="0.9"/>
<line x1="352.40" y1="415.08" x2="350.10" y2="415.08" stroke="#000" stroke-width="0.9"/>
<line x1="331.70" y1="437.32" x2="334.00" y2="437.32" stroke="#000" stroke-width="0.9"/>
<line x1="352.40" y1="437.32" x2="350.10" y2="437.32" stroke="#000" stroke-width="0.9"/>
<line x1="331.70" y1="448.44" x2="334.00" y2="448.44" stroke="#000" stroke-width="0.9"/>
<line x1="352.40" y1="448.44" x2="350.10" y2="448.44" stroke="#000" stroke-width="0.9"/>
<line x1="331.70" y1="459.56" x2="334.00" y2="459.56" stroke="#000" stroke-width="0.9"/>
<line x1="352.40" y1="459.56" x2="350.10" y2="459.56" stroke="#000" stroke-width="0.9"/>
<line x1="331.70" y1="470.68" x2="334.00" y2="470.68" stroke="#000" stroke-width="0.9"/>
<line x1="352.40" y1="470.68" x2="350.10" y2="470.68" stroke="#000" stroke-width="0.9"/>
<text x="364.00" y="481.80" font-size="10.5" font-family="Liberation Sans, sans-serif" font-weight="bold" text-anchor="middle" transform="rotate(-90 364.00 481.80)">8000</text>
<text x="364.00" y="426.20" font-size="10.5" font-family="Liberation Sans, sans-serif" font-weight="bold" text-anchor="middle" transform="rotate(-90 364.00 426.20)">9000</text>
<text x="364.00" y="370.60" font-size="10.5" font-family="Liberation Sans, sans-serif" font-weight="bold" text-anchor="middle" transform="rotate(-90 364.00 370.60)">10<tspan dx="0.5" dy="-4.7" font-size="7.8">4</tspan></text>
<text x="364.00" y="315.00" font-size="10.5" font-family="Liberation Sans, sans-serif" font-weight="bold" text-anchor="middle" transform="rotate(-90 364.00 315.00)">1.1&#215;10<tspan dx="0.5" dy="-4.7" font-size="7.8">4</tspan></text>
<text x="373.00" y="292.90" font-size="11.5" font-family="Liberation Serif, serif" font-weight="bold" text-anchor="middle" transform="rotate(-90 373.00 292.90)">&#967;</text>
<text x="368.00" y="283.60" font-size="7.5" font-family="Liberation Sans, sans-serif" font-weight="bold" text-anchor="middle" transform="rotate(-90 368.00 283.60)">2</text>
<circle cx="64.1" cy="319.5" r="4.9" fill="#000"/>
</svg>
</body></html>
